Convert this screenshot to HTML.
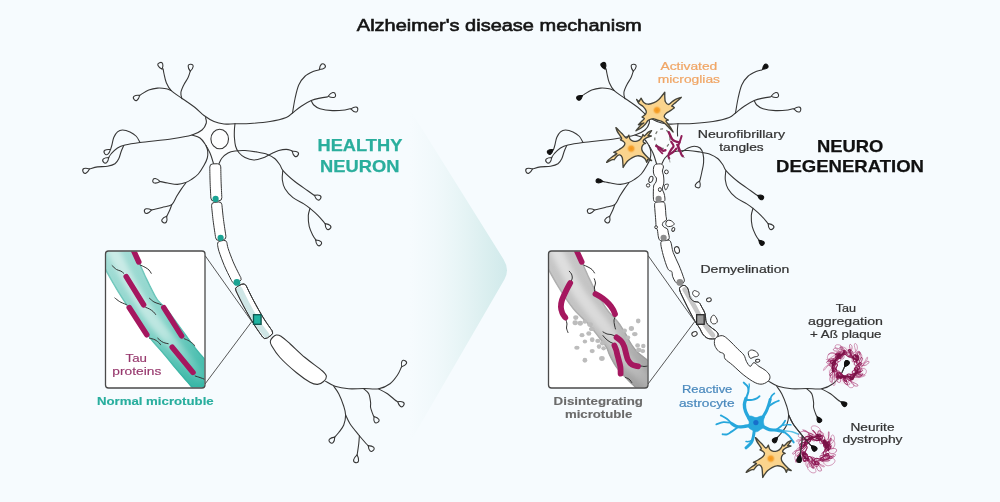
<!DOCTYPE html>
<html lang="en"><head><meta charset="utf-8"><title>Alzheimer's disease mechanism</title>
<style>html,body{margin:0;padding:0;background:#f6fbfe;}body{width:1000px;height:502px;overflow:hidden;}svg{display:block;font-family:"Liberation Sans",sans-serif;}</style>
</head><body><div style="will-change:transform;width:1000px;height:502px;">
<svg width="1000" height="502" viewBox="0 0 1000 502">
<defs>
<linearGradient id="arrowg" gradientUnits="userSpaceOnUse" x1="410" y1="0" x2="509" y2="0"><stop offset="0" stop-color="#dcefef" stop-opacity="0"/><stop offset="0.25" stop-color="#dcefef" stop-opacity="0.2"/><stop offset="0.5" stop-color="#d9eeee" stop-opacity="0.5"/><stop offset="0.75" stop-color="#d5ecec" stop-opacity="0.8"/><stop offset="1" stop-color="#cfe9ea" stop-opacity="1"/></linearGradient>
<linearGradient id="tealband" gradientUnits="userSpaceOnUse" x1="120" y1="255" x2="200" y2="385"><stop offset="0" stop-color="#a2dcd5"/><stop offset="0.5" stop-color="#8ad4ca"/><stop offset="0.78" stop-color="#58c3b5"/><stop offset="1" stop-color="#38b7a6"/></linearGradient>
<linearGradient id="tealhi" gradientUnits="userSpaceOnUse" x1="120" y1="255" x2="200" y2="385"><stop offset="0" stop-color="#d2eeea" stop-opacity="0.85"/><stop offset="0.6" stop-color="#c8ebe6" stop-opacity="0.8"/><stop offset="0.85" stop-color="#9bdcd3" stop-opacity="0.4"/><stop offset="1" stop-color="#8fd8cd" stop-opacity="0.15"/></linearGradient>
<linearGradient id="grayband" gradientUnits="userSpaceOnUse" x1="563" y1="255" x2="643" y2="385"><stop offset="0" stop-color="#c6c6c6"/><stop offset="0.5" stop-color="#c2c2c2"/><stop offset="0.8" stop-color="#adadad"/><stop offset="1" stop-color="#9e9e9e"/></linearGradient>
<linearGradient id="grayhi" gradientUnits="userSpaceOnUse" x1="563" y1="255" x2="643" y2="385"><stop offset="0" stop-color="#e2e2e2" stop-opacity="0.9"/><stop offset="0.6" stop-color="#dedede" stop-opacity="0.8"/><stop offset="1" stop-color="#cfcfcf" stop-opacity="0.3"/></linearGradient>
<radialGradient id="nuc"><stop offset="0" stop-color="#f3931a"/><stop offset="0.5" stop-color="#f6a430"/><stop offset="1" stop-color="#fad08a" stop-opacity="0"/></radialGradient>
<filter id="soft" x="-20%" y="-20%" width="140%" height="140%"><feGaussianBlur stdDeviation="2.6"/></filter>
<filter id="soft1" x="-20%" y="-20%" width="140%" height="140%"><feGaussianBlur stdDeviation="0.7"/></filter>
<clipPath id="boxL"><rect x="106" y="251.6" width="98.5" height="136" rx="2.5"/></clipPath>
<clipPath id="boxR"><rect x="549" y="251.6" width="98.5" height="136" rx="2.5"/></clipPath>
</defs>
<rect width="1000" height="502" fill="#f6fbfe"/>
<path d="M379,60 L503.6,259.4 Q510,269.6 504.4,279.4 L387,482 Z" fill="url(#arrowg)"/>
<text x="356.8" y="31.3" font-size="17" fill="#141414" font-weight="normal" textLength="285" lengthAdjust="spacingAndGlyphs" stroke="#141414" stroke-width="0.6">Alzheimer's disease mechanism</text>
<path d="M205.5,117.5C206.27,117.35 212.15,120.85 214,121.5C215.85,122.15 221.9,123.79 224,124C226.1,124.21 233.96,123 235,123.6C236.04,124.2 234.46,128.61 234.4,130C234.34,131.39 234.28,135.88 234.4,137.5C234.52,139.12 235.29,144.94 235.6,146.25C235.91,147.56 237.56,150.12 237.5,150.6C237.44,151.07 235.95,150.76 235,151C234.05,151.24 229.3,152.3 228,153C226.7,153.7 222.9,156.95 222,158C221.1,159.05 219.85,162.95 219,163.5C218.15,164.05 214.4,164.55 213.5,163.5C212.6,162.45 210.85,154.95 210,153C209.15,151.05 206,145.5 205,144C204,142.5 201.3,138.9 200,138C198.7,137.1 191.8,135.8 192,135C192.2,134.2 200.57,131.2 202,130C203.43,128.8 205.95,124.25 206.3,123C206.65,121.75 204.73,117.65 205.5,117.5Z" fill="#fbfdfe"/>
<path d="M163.1,68.75C163.25,69.58 163.47,71.46 164,73.75C164.53,76.04 165.04,79.69 166.25,82.5C167.46,85.31 168.54,87.89 171.25,90.6C173.96,93.31 178.54,95.93 182.5,98.75C186.46,101.57 191.42,104.71 195,107.5C198.58,110.29 200.83,113.17 204,115.5C207.17,117.83 210.67,120.08 214,121.5C217.33,122.92 220.5,123.63 224,124C227.5,124.37 230.67,123.78 235,123.7C239.33,123.62 244.17,123.87 250,123.5C255.83,123.13 263.96,122.5 270,121.5C276.04,120.5 282.5,118.92 286.25,117.5C290,116.08 290,114.88 292.5,113C295,111.12 298.12,108.32 301.25,106.25C304.38,104.18 308.12,101.96 311.25,100.6C314.38,99.24 317.29,98.72 320,98.1C322.71,97.48 326.25,97.1 327.5,96.9" fill="none" stroke="#363636" stroke-width="1.08" stroke-linecap="round"/>
<path d="M162.16,69.15C163.84,64.33 162.67,61.41 159.56,62.65C156.45,63.89 157.62,66.82 162.16,69.15Z" fill="#f6fbfe" stroke="#363636" stroke-width="1.08"/>
<path d="M328.17,96.21C332.94,98.53 336.23,97.77 335.47,94.51C334.71,91.25 331.43,92.01 328.17,96.21Z" fill="#f6fbfe" stroke="#363636" stroke-width="1.08"/>
<path d="M205.5,117.5C205.63,118.42 206.88,120.92 206.3,123C205.72,125.08 204.38,128 202,130C199.62,132 196.92,133.54 192,135C187.08,136.46 181.17,137.5 172.5,138.75C163.83,140 147.92,141.46 140,142.5C132.08,143.54 128.75,144.08 125,145C121.25,145.92 119.79,146.54 117.5,148C115.21,149.46 112.71,152.17 111.25,153.75C109.79,155.33 109.16,156.88 108.75,157.5C108.34,158.12 108.76,157.49 108.76,157.49" fill="none" stroke="#363636" stroke-width="1.08" stroke-linecap="round"/>
<path d="M108.76,157.49C103.66,157.5 101.29,159.57 103.49,162.09C105.69,164.61 108.07,162.54 108.76,157.49Z" fill="#f6fbfe" stroke="#363636" stroke-width="1.08" stroke-linejoin="round"/>
<path d="M192,135C193.33,135.5 197.83,136.5 200,138C202.17,139.5 203.33,141.5 205,144C206.67,146.5 208.58,149.75 210,153C211.42,156.25 212.92,161.75 213.5,163.5" fill="none" stroke="#363636" stroke-width="1.08" stroke-linecap="round"/>
<path d="M235,123.5C234.9,124.58 234.5,127.67 234.4,130C234.3,132.33 234.2,134.79 234.4,137.5C234.6,140.21 234.88,143.75 235.6,146.25C236.32,148.75 237.18,150.62 238.75,152.5C240.32,154.38 242.5,156.25 245,157.5C247.5,158.75 250.83,159.9 253.75,160C256.67,160.1 259.58,159.14 262.5,158.1C265.42,157.06 268.54,155 271.25,153.75C273.96,152.5 276.25,151.32 278.75,150.6C281.25,149.88 284.17,149.4 286.25,149.4C288.33,149.4 290.26,150.29 291.25,150.6C292.24,150.91 292.04,151.17 292.2,151.29" fill="none" stroke="#363636" stroke-width="1.08" stroke-linecap="round"/>
<path d="M292.2,151.29C293.35,156.26 295.9,158.1 297.87,155.39C299.83,152.68 297.28,150.83 292.2,151.29Z" fill="#f6fbfe" stroke="#363636" stroke-width="1.08" stroke-linejoin="round"/>
<path d="M219,163.5C219.5,162.58 220.5,159.75 222,158C223.5,156.25 225.83,154.17 228,153C230.17,151.83 232.17,151.42 235,151C237.83,150.58 241.46,150.35 245,150.5C248.54,150.65 252.5,151.25 256.25,151.9C260,152.55 264.38,153.26 267.5,154.4C270.62,155.54 272.92,156.98 275,158.75C277.08,160.52 278.63,162.99 280,165C281.37,167.01 280.73,168.05 283.2,170.8C285.67,173.55 290.77,178.22 294.8,181.5C298.83,184.78 304.25,188.25 307.4,190.5C310.55,192.75 312.54,194.19 313.7,195C314.86,195.81 314.26,195.3 314.38,195.35" fill="none" stroke="#363636" stroke-width="1.08" stroke-linecap="round"/>
<path d="M314.38,195.35C316.24,200.1 319.03,201.56 320.58,198.6C322.13,195.63 319.34,194.17 314.38,195.35Z" fill="#f6fbfe" stroke="#363636" stroke-width="1.08" stroke-linejoin="round"/>
<path d="M282.8,170.8C282.72,172.28 281.93,176.72 282.3,179.7C282.67,182.68 283.22,185.7 285,188.7C286.78,191.7 289.87,195.17 293,197.7C296.13,200.23 300.97,202.12 303.8,203.9C306.63,205.68 307.62,206.45 310,208.4C312.38,210.35 315.7,213.2 318.1,215.6C320.5,218 323.22,221.46 324.4,222.8C325.58,224.14 325.03,223.48 325.15,223.61" fill="none" stroke="#363636" stroke-width="1.08" stroke-linecap="round"/>
<path d="M325.15,223.61C325.3,228.71 327.44,231.03 329.9,228.76C332.36,226.49 330.22,224.17 325.15,223.61Z" fill="#f6fbfe" stroke="#363636" stroke-width="1.08" stroke-linejoin="round"/>
<path d="M310,208.4C309.72,209.6 308.43,212.6 308.3,215.6C308.17,218.6 308.45,223.12 309.2,226.4C309.95,229.68 311.6,232.92 312.8,235.3C314,237.68 315.92,239.92 316.4,240.7C316.88,241.48 315.79,240.11 315.66,240" fill="none" stroke="#363636" stroke-width="1.08" stroke-linecap="round"/>
<path d="M315.66,240C316.13,245.08 318.41,247.25 320.72,244.84C323.04,242.42 320.76,240.24 315.66,240Z" fill="#f6fbfe" stroke="#363636" stroke-width="1.08" stroke-linejoin="round"/>
<path d="M206,145.5C206.28,146.42 207.48,148.92 207.7,151C207.92,153.08 207.93,155.57 207.3,158C206.67,160.43 205.4,162.93 203.9,165.6C202.4,168.27 200.38,171.68 198.3,174C196.22,176.32 193.48,178.07 191.4,179.5C189.32,180.93 188.13,181.78 185.8,182.6C183.47,183.42 180.42,184.33 177.4,184.4C174.38,184.47 170.48,183.47 167.7,183C164.92,182.53 161.95,181.85 160.7,181.6C159.45,181.35 160.29,181.54 160.21,181.53" fill="none" stroke="#363636" stroke-width="1.08" stroke-linecap="round"/>
<path d="M160.21,181.53C156.56,177.88 153.22,177.4 152.78,180.47C152.34,183.54 155.68,184.01 160.21,181.53Z" fill="#f6fbfe" stroke="#363636" stroke-width="1.08" stroke-linejoin="round"/>
<path d="M185.8,183C185.1,183.93 183.12,186.38 181.6,188.6C180.08,190.82 178.33,193.63 176.7,196.3C175.07,198.97 174.23,202.75 171.8,204.6C169.37,206.45 165.12,206.58 162.1,207.4C159.08,208.22 155.43,209.08 153.7,209.5C151.97,209.92 152.07,209.86 151.74,209.93" fill="none" stroke="#363636" stroke-width="1.08" stroke-linecap="round"/>
<path d="M151.74,209.93C147.04,207.8 143.75,208.54 144.42,211.56C145.1,214.59 148.39,213.86 151.74,209.93Z" fill="#f6fbfe" stroke="#363636" stroke-width="1.08" stroke-linejoin="round"/>
<path d="M171.8,204.6C171.45,205.53 170.5,208.33 169.7,210.2C168.9,212.07 167.5,214.77 167,215.8C166.5,216.83 166.74,216.26 166.68,216.35" fill="none" stroke="#363636" stroke-width="1.08" stroke-linecap="round"/>
<path d="M166.68,216.35C161.87,218.04 160.3,220.77 163.21,222.43C166.12,224.09 167.68,221.36 166.68,216.35Z" fill="#f6fbfe" stroke="#363636" stroke-width="1.08" stroke-linejoin="round"/>
<path d="M181.9,98.75C181.73,97.71 180.59,94.79 180.9,92.5C181.21,90.21 182.55,87.5 183.75,85C184.95,82.5 187.02,79.79 188.1,77.5C189.18,75.21 189.89,72.3 190.25,71.25C190.61,70.2 190.25,71.2 190.26,71.19" fill="none" stroke="#363636" stroke-width="1.08" stroke-linecap="round"/>
<path d="M190.26,71.19C193.91,67.62 194.17,64.48 190.83,64.21C187.49,63.93 187.23,67.07 190.26,71.19Z" fill="#f6fbfe" stroke="#363636" stroke-width="1.08" stroke-linejoin="round"/>
<path d="M171.25,90.6C170.42,90.29 168.54,89.17 166.25,88.75C163.96,88.33 160.42,87.89 157.5,88.1C154.58,88.31 151.46,88.95 148.75,90C146.04,91.05 142.75,93.5 141.25,94.4C139.75,95.3 139.99,95.24 139.74,95.41" fill="none" stroke="#363636" stroke-width="1.08" stroke-linecap="round"/>
<path d="M139.74,95.41C134.68,94.77 132.06,96.53 133.92,99.31C135.79,102.09 138.4,100.34 139.74,95.41Z" fill="#f6fbfe" stroke="#363636" stroke-width="1.08" stroke-linejoin="round"/>
<path d="M140,142.5C139.38,141.46 137.92,138.02 136.25,136.25C134.58,134.48 132.29,132.94 130,131.9C127.71,130.86 124.58,130 122.5,130C120.42,130 118.96,130.65 117.5,131.9C116.04,133.15 114.68,135.32 113.75,137.5C112.82,139.68 112.43,143.02 111.9,145C111.38,146.98 110.85,148.64 110.6,149.4C110.35,150.16 110.42,149.52 110.38,149.55" fill="none" stroke="#363636" stroke-width="1.08" stroke-linecap="round"/>
<path d="M110.38,149.55C105.32,148.93 102.71,150.69 104.58,153.47C106.45,156.24 109.06,154.48 110.38,149.55Z" fill="#f6fbfe" stroke="#363636" stroke-width="1.08" stroke-linejoin="round"/>
<path d="M123.75,145.6C123.33,146.54 122.08,149.06 121.25,151.25C120.42,153.44 119.79,156.67 118.75,158.75C117.71,160.83 116.88,162.5 115,163.75C113.12,165 110.42,165.72 107.5,166.25C104.58,166.78 100.42,166.48 97.5,166.9C94.58,167.32 91.34,168.4 90,168.75C88.66,169.1 89.56,168.94 89.47,168.97" fill="none" stroke="#363636" stroke-width="1.08" stroke-linecap="round"/>
<path d="M89.47,168.97C84.62,167.38 81.72,168.6 83.02,171.69C84.32,174.77 87.22,173.55 89.47,168.97Z" fill="#f6fbfe" stroke="#363636" stroke-width="1.08" stroke-linejoin="round"/>
<path d="M292.5,113C292.92,110.62 293.96,103.42 295,98.75C296.04,94.08 297.08,88.75 298.75,85C300.42,81.25 302.5,78.54 305,76.25C307.5,73.96 311.46,72.29 313.75,71.25C316.04,70.21 317.81,70.3 318.75,70C319.69,69.7 319.28,69.52 319.39,69.42" fill="none" stroke="#363636" stroke-width="1.08" stroke-linecap="round"/>
<path d="M319.39,69.42C324.49,69.32 326.82,67.2 324.57,64.72C322.33,62.24 319.99,64.35 319.39,69.42Z" fill="#f6fbfe" stroke="#363636" stroke-width="1.08" stroke-linejoin="round"/>
<path d="M311.25,100.6C311.67,101.33 312.29,103.64 313.75,105C315.21,106.36 316.88,107.82 320,108.75C323.12,109.68 328.33,110.39 332.5,110.6C336.67,110.81 342.08,110.31 345,110C347.92,109.69 349.03,108.94 350,108.75C350.97,108.56 350.7,108.84 350.84,108.86" fill="none" stroke="#363636" stroke-width="1.08" stroke-linecap="round"/>
<path d="M350.84,108.86C354.22,112.67 357.35,113.08 357.78,109.76C358.21,106.44 355.08,106.03 350.84,108.86Z" fill="#f6fbfe" stroke="#363636" stroke-width="1.08" stroke-linejoin="round"/>
<path d="M325.6,381.25C327.17,382.08 331.14,385 335,386.25C338.86,387.5 343.96,388.38 348.75,388.75C353.54,389.12 358.75,388.5 363.75,388.5C368.75,388.5 374.38,389.54 378.75,388.75C383.12,387.96 386.88,386.04 390,383.75C393.12,381.46 395.62,377.71 397.5,375C399.38,372.29 400.55,368.87 401.25,367.5C401.95,366.13 401.6,366.88 401.68,366.75" fill="none" stroke="#363636" stroke-width="1.08" stroke-linecap="round"/>
<path d="M401.68,366.75C406.49,365.06 408.04,362.32 405.13,360.67C402.22,359.01 400.67,361.75 401.68,366.75Z" fill="#f6fbfe" stroke="#363636" stroke-width="1.08" stroke-linejoin="round"/>
<path d="M378.75,389C380.21,389.79 384.79,391.92 387.5,393.75C390.21,395.58 393.3,398.67 395,400C396.7,401.33 397.26,401.45 397.71,401.74" fill="none" stroke="#363636" stroke-width="1.08" stroke-linecap="round"/>
<path d="M397.71,401.74C399.15,406.63 401.8,408.33 403.61,405.51C405.41,402.69 402.76,400.99 397.71,401.74Z" fill="#f6fbfe" stroke="#363636" stroke-width="1.08" stroke-linejoin="round"/>
<path d="M363.75,388.75C364.58,389.58 367.61,391.46 368.75,393.75C369.89,396.04 370.29,400.21 370.6,402.5C370.91,404.79 370.18,405.42 370.6,407.5C371.02,409.58 372.53,413.51 373.1,415C373.67,416.49 373.86,416.21 374.01,416.45" fill="none" stroke="#363636" stroke-width="1.08" stroke-linecap="round"/>
<path d="M374.01,416.45C373.23,421.49 374.91,424.15 377.74,422.37C380.58,420.58 378.9,417.92 374.01,416.45Z" fill="#f6fbfe" stroke="#363636" stroke-width="1.08" stroke-linejoin="round"/>
<path d="M333.75,386.25C334.58,387.5 337.08,390.42 338.75,393.75C340.42,397.08 342.61,402.71 343.75,406.25C344.89,409.79 345.6,411.88 345.6,415C345.6,418.12 344.89,422.08 343.75,425C342.61,427.92 340.31,430.42 338.75,432.5C337.19,434.58 335.07,436.73 334.4,437.5C333.73,438.27 334.67,437.2 334.73,437.14" fill="none" stroke="#363636" stroke-width="1.08" stroke-linecap="round"/>
<path d="M334.73,437.14C329.66,437.74 327.54,440.07 330.02,442.32C332.49,444.57 334.61,442.24 334.73,437.14Z" fill="#f6fbfe" stroke="#363636" stroke-width="1.08" stroke-linejoin="round"/>
<path d="M345.6,415C346.33,416.46 347.81,420.42 350,423.75C352.19,427.08 356.04,431.67 358.75,435C361.46,438.33 364.67,441.98 366.25,443.75C367.83,445.52 367.88,445.3 368.21,445.61" fill="none" stroke="#363636" stroke-width="1.08" stroke-linecap="round"/>
<path d="M368.21,445.61C368.69,450.69 370.97,452.86 373.28,450.43C375.59,448 373.3,445.83 368.21,445.61Z" fill="#f6fbfe" stroke="#363636" stroke-width="1.08" stroke-linejoin="round"/>
<path d="M359.4,435.6C359.29,436.96 359.07,440.93 358.75,443.75C358.43,446.57 357.78,450.66 357.5,452.5C357.22,454.34 357.16,454.4 357.09,454.78" fill="none" stroke="#363636" stroke-width="1.08" stroke-linecap="round"/>
<path d="M357.09,454.78C353.01,458.51 352.37,462.05 355.66,462.65C358.96,463.24 359.6,459.7 357.09,454.78Z" fill="#f6fbfe" stroke="#363636" stroke-width="1.08" stroke-linejoin="round"/>
<ellipse cx="219.7" cy="139" rx="8.8" ry="9.8" fill="#fdfefe" stroke="#363636" stroke-width="1.08"/>
<path d="M209.77,167.12C209.83,169.63 209.92,177.03 210.1,182.19C210.28,187.35 210.73,195.42 210.85,198.06Q211.01,201.26 214.2,201.11L218.8,200.89Q221.99,200.74 221.84,197.54L221.84,197.54C221.72,194.92 221.28,186.92 221.1,181.81C220.92,176.7 220.82,169.37 220.77,166.88Q220.7,163.68 217.5,163.75L212.9,163.85Q209.7,163.92 209.77,167.12Z" fill="#fff" stroke="#363636" stroke-width="1.0" stroke-linejoin="round" />
<path d="M211.55,205.73C211.81,208.22 212.46,215.31 213.14,220.66C213.82,226 215.21,234.92 215.62,237.78Q216.05,240.75 219.02,240.32L223.38,239.68Q226.35,239.25 225.92,236.28L225.92,236.28C225.51,233.46 224.13,224.62 223.46,219.34C222.79,214.07 222.15,207.08 221.89,204.63Q221.57,201.65 218.59,201.97L214.21,202.43Q211.23,202.75 211.55,205.73Z" fill="#fff" stroke="#363636" stroke-width="1.0" stroke-linejoin="round" />
<path d="M217.55,244.75C217.79,245.86 217.89,247.95 219.02,251.43C220.15,254.91 222.48,261.23 224.33,265.62C226.17,270 228.77,275.02 230.1,277.72C231.42,280.43 231.9,281.17 232.26,281.86Q233.65,284.52 236.3,283.13L239.5,281.47Q242.15,280.08 240.77,277.42L240.77,277.42C240.42,276.76 239.97,276.07 238.7,273.48C237.44,270.89 234.93,266.03 233.17,261.88C231.42,257.73 229.22,251.77 228.18,248.57C227.14,245.38 227.14,243.69 226.93,242.71Q226.29,239.78 223.36,240.42L219.84,241.18Q216.91,241.82 217.55,244.75Z" fill="#fff" stroke="#363636" stroke-width="1.0" stroke-linejoin="round" />
<path d="M236.01,290.88C237.24,293.35 240.41,300.16 243.37,305.68C246.33,311.2 250.55,318.78 253.75,324C256.95,329.22 261.1,334.83 262.57,336.99Q264.49,339.8 267.3,337.89L271.1,335.31Q273.91,333.4 272,330.58L272,330.58C270.58,328.49 266.54,323.04 263.45,318C260.35,312.96 256.3,305.69 253.43,300.32C250.56,294.96 247.42,288.23 246.22,285.81Q244.7,282.76 241.66,284.28L237.54,286.32Q234.5,287.84 236.01,290.88Z" fill="#fff" stroke="#363636" stroke-width="1.0" stroke-linejoin="round" />
<path d="M239.4,289.4C240.73,292.08 244.43,299.97 247.4,305.5C250.37,311.03 254.03,317.68 257.2,322.6C260.37,327.52 264.87,332.93 266.4,335" fill="none" stroke="#cfe6e6" stroke-width="6" stroke-linecap="round"/>
<path d="M236.01,290.88C237.24,293.35 240.41,300.16 243.37,305.68C246.33,311.2 250.55,318.78 253.75,324C256.95,329.22 261.1,334.83 262.57,336.99Q264.49,339.8 267.3,337.89L271.1,335.31Q273.91,333.4 272,330.58L272,330.58C270.58,328.49 266.54,323.04 263.45,318C260.35,312.96 256.3,305.69 253.43,300.32C250.56,294.96 247.42,288.23 246.22,285.81Q244.7,282.76 241.66,284.28L237.54,286.32Q234.5,287.84 236.01,290.88Z" fill="none" stroke="#363636" stroke-width="1.0" stroke-linejoin="round" />
<circle cx="215.6" cy="198.9" r="3.1" fill="#1aa393"/>
<circle cx="220.6" cy="237.8" r="3.1" fill="#1aa393"/>
<circle cx="236.9" cy="282.4" r="3.4" fill="#1aa393"/>
<path d="M272.5,337.5C271.52,338.5 270.57,339.67 270.4,341C270.23,342.33 269.9,342.75 271.5,345.5C273.1,348.25 275.88,353 280,357.5C284.12,362 291.25,368.38 296.25,372.5C301.25,376.62 306.46,380.22 310,382.2C313.54,384.18 315.23,384.52 317.5,384.4C319.77,384.28 322.12,382.83 323.6,381.5C325.08,380.17 326.58,378.15 326.4,376.4C326.22,374.65 326.07,374.15 322.5,371C318.93,367.85 310.42,362.04 305,357.5C299.58,352.96 294,347.28 290,343.75C286,340.22 283.29,337.76 281,336.3C278.71,334.84 277.67,334.8 276.25,335C274.83,335.2 273.48,336.5 272.5,337.5Z" fill="#fff" stroke="#363636" stroke-width="1.08"/>
<path d="M205,255.5 L251.8,321.5 L205,384" fill="none" stroke="#444" stroke-width="0.9" stroke-linejoin="round"/>
<rect x="253.5" y="314.7" width="7.6" height="9.6" fill="#20b4a2" stroke="#0e554e" stroke-width="1.3"/>
<rect x="105.5" y="251" width="99.5" height="137" rx="3" fill="#fff"/>
<g clip-path="url(#boxL)">
<clipPath id="bctealband"><path d="M92,247C93.33,249.33 97.75,257 100,261C102.25,265 103.12,266.75 105.5,271C107.88,275.25 111.55,281.83 114.3,286.5C117.05,291.17 118.33,293.42 122,299C125.67,304.58 131.72,313.42 136.3,320C140.88,326.58 145.28,333.08 149.5,338.5C153.72,343.92 157.02,347.08 161.6,352.5C166.18,357.92 172.05,365.17 177,371C181.95,376.83 187.8,383.5 191.3,387.5C194.8,391.5 195.72,392.42 198,395C200.28,397.58 203.83,401.67 205,403L220,377C218.67,375.33 214.58,370.17 212,367C209.42,363.83 207.22,361.25 204.5,358C201.78,354.75 199.18,352 195.7,347.5C192.22,343 188.18,337.25 183.6,331C179.02,324.75 172.22,315 168.2,310C164.18,305 161.7,303.63 159.5,301C157.3,298.37 157.03,297.9 155,294.2C152.97,290.5 149.5,283.38 147.3,278.8C145.1,274.22 143.93,271.33 141.8,266.7C139.67,262.07 136.8,255.78 134.5,251C132.2,246.22 130.08,242.33 128,238C125.92,233.67 123,227.17 122,225Z"/></clipPath>
<g clip-path="url(#bctealband)">
<path d="M92,247C93.33,249.33 97.75,257 100,261C102.25,265 103.12,266.75 105.5,271C107.88,275.25 111.55,281.83 114.3,286.5C117.05,291.17 118.33,293.42 122,299C125.67,304.58 131.72,313.42 136.3,320C140.88,326.58 145.28,333.08 149.5,338.5C153.72,343.92 157.02,347.08 161.6,352.5C166.18,357.92 172.05,365.17 177,371C181.95,376.83 187.8,383.5 191.3,387.5C194.8,391.5 195.72,392.42 198,395C200.28,397.58 203.83,401.67 205,403L220,377C218.67,375.33 214.58,370.17 212,367C209.42,363.83 207.22,361.25 204.5,358C201.78,354.75 199.18,352 195.7,347.5C192.22,343 188.18,337.25 183.6,331C179.02,324.75 172.22,315 168.2,310C164.18,305 161.7,303.63 159.5,301C157.3,298.37 157.03,297.9 155,294.2C152.97,290.5 149.5,283.38 147.3,278.8C145.1,274.22 143.93,271.33 141.8,266.7C139.67,262.07 136.8,255.78 134.5,251C132.2,246.22 130.08,242.33 128,238C125.92,233.67 123,227.17 122,225Z" fill="url(#tealband)"/>
<path d="M105.5,236C107.67,240.17 113.89,252.18 118.5,261C123.11,269.82 127.4,279.11 133.15,288.9C138.9,298.69 145.39,309.4 153,319.75C160.61,330.1 171.01,341.54 178.8,351C186.59,360.46 196.26,372.25 199.75,376.5" fill="none" stroke="url(#tealhi)" stroke-width="12" stroke-linecap="round" filter="url(#soft)"/>
<path d="M92,247C93.33,249.33 97.75,257 100,261C102.25,265 103.12,266.75 105.5,271C107.88,275.25 111.55,281.83 114.3,286.5C117.05,291.17 118.33,293.42 122,299C125.67,304.58 131.72,313.42 136.3,320C140.88,326.58 145.28,333.08 149.5,338.5C153.72,343.92 157.02,347.08 161.6,352.5C166.18,357.92 172.05,365.17 177,371C181.95,376.83 187.8,383.5 191.3,387.5C194.8,391.5 195.72,392.42 198,395C200.28,397.58 203.83,401.67 205,403" fill="none" stroke="#2aa898" stroke-width="3" opacity="0.35" filter="url(#soft1)"/>
<path d="M122,225C123,227.17 125.92,233.67 128,238C130.08,242.33 132.2,246.22 134.5,251C136.8,255.78 139.67,262.07 141.8,266.7C143.93,271.33 145.1,274.22 147.3,278.8C149.5,283.38 152.97,290.5 155,294.2C157.03,297.9 157.3,298.37 159.5,301C161.7,303.63 164.18,305 168.2,310C172.22,315 179.02,324.75 183.6,331C188.18,337.25 192.22,343 195.7,347.5C199.18,352 201.78,354.75 204.5,358C207.22,361.25 209.42,363.83 212,367C214.58,370.17 218.67,375.33 220,377" fill="none" stroke="#2aa898" stroke-width="3" opacity="0.35" filter="url(#soft1)"/>
</g>
<path d="M140.2,265C141.02,265.38 143.63,266.47 145.1,267.3C146.57,268.13 147.98,269 149,270C150.02,271 150.83,272.75 151.2,273.3" stroke="#333" stroke-width="1" fill="none" stroke-linecap="round"/>
<path d="M112.1,265.6C112.83,266.25 115.03,268.58 116.5,269.5C117.97,270.42 119.7,270.47 120.9,271.1C122.1,271.73 123.23,272.93 123.7,273.3" stroke="#333" stroke-width="1" fill="none" stroke-linecap="round"/>
<path d="M145.7,307.4C146.33,307.67 148.22,308.27 149.5,309C150.78,309.73 152.38,310.83 153.4,311.75C154.42,312.67 155.23,314.04 155.6,314.5" stroke="#333" stroke-width="1" fill="none" stroke-linecap="round"/>
<path d="M114.9,298C115.63,298.57 118.03,300.57 119.3,301.4C120.57,302.23 121.32,302.47 122.5,303C123.68,303.53 125.75,304.33 126.4,304.6" stroke="#333" stroke-width="1" fill="none" stroke-linecap="round"/>
<path d="M149.5,338.2C150.42,338.47 153.35,338.98 155,339.8C156.65,340.62 158.48,342.28 159.4,343.1C160.32,343.93 160.32,344.48 160.5,344.75" stroke="#333" stroke-width="1" fill="none" stroke-linecap="round"/>
<path d="M149.5,298.3C150.23,298.9 152.48,301.03 153.9,301.9C155.32,302.77 156.8,303.05 158,303.5C159.2,303.95 160.58,304.42 161.1,304.6" stroke="#333" stroke-width="1" fill="none" stroke-linecap="round"/>
<path d="M184.2,338.7C185.02,339.07 187.55,339.98 189.1,340.9C190.65,341.82 192.58,343.37 193.5,344.2C194.42,345.03 194.42,345.62 194.6,345.9" stroke="#333" stroke-width="1" fill="none" stroke-linecap="round"/>
<path d="M157.75,338.2C158.39,338.75 160.39,340.7 161.6,341.5C162.81,342.3 163.9,342.63 165,343C166.1,343.37 167.67,343.58 168.2,343.7" stroke="#333" stroke-width="1" fill="none" stroke-linecap="round"/>
<path d="M195.2,376C196.02,376.27 198.55,377.06 200.1,377.6C201.65,378.14 203.52,378.77 204.5,379.25C205.48,379.73 205.75,380.29 206,380.5" stroke="#333" stroke-width="1" fill="none" stroke-linecap="round"/>
<path d="M132.6,248.5 L138.8,262" stroke="#a5175f" stroke-width="5.5" stroke-linecap="round" fill="none"/>
<path d="M126.2,276.6 L143.6,304.8" stroke="#a5175f" stroke-width="5.5" stroke-linecap="round" fill="none"/>
<path d="M129.2,307.6 L146.8,334.8" stroke="#a5175f" stroke-width="5.5" stroke-linecap="round" fill="none"/>
<path d="M163.8,307.6 L181.6,335.9" stroke="#a5175f" stroke-width="5.5" stroke-linecap="round" fill="none"/>
<path d="M172.2,347.2 L193,372.4" stroke="#a5175f" stroke-width="5.5" stroke-linecap="round" fill="none"/>
</g>
<rect x="105.5" y="251" width="99.5" height="137" rx="3" fill="none" stroke="#4a4a4a" stroke-width="1.3"/>
<text x="125.6" y="362" font-size="11.2" fill="#97386d" font-weight="normal" textLength="21.4" lengthAdjust="spacingAndGlyphs"  stroke="#97386d" stroke-width="0.15">Tau</text>
<text x="112.3" y="374.6" font-size="11.2" fill="#97386d" font-weight="normal" textLength="49" lengthAdjust="spacingAndGlyphs"  stroke="#97386d" stroke-width="0.15">proteins</text>
<text x="96.9" y="404.9" font-size="11.4" fill="#29ae9e" font-weight="bold" textLength="116.8" lengthAdjust="spacingAndGlyphs"  stroke="#29ae9e" stroke-width="0.15">Normal microtuble</text>
<text x="317.5" y="151.3" font-size="16.7" fill="#2aae9d" font-weight="bold" textLength="84.8" lengthAdjust="spacingAndGlyphs"  stroke="#2aae9d" stroke-width="0.25">HEALTHY</text>
<text x="320" y="171.6" font-size="16.7" fill="#2aae9d" font-weight="bold" textLength="79.4" lengthAdjust="spacingAndGlyphs"  stroke="#2aae9d" stroke-width="0.25">NEURON</text>
<path d="M648.5,117.5C649.27,117.35 655.15,120.85 657,121.5C658.85,122.15 664.9,123.79 667,124C669.1,124.21 676.96,123 678,123.6C679.04,124.2 677.46,128.61 677.4,130C677.34,131.39 677.28,135.88 677.4,137.5C677.52,139.12 678.29,144.94 678.6,146.25C678.91,147.56 680.56,150.12 680.5,150.6C680.44,151.07 678.95,150.76 678,151C677.05,151.24 672.3,152.3 671,153C669.7,153.7 665.9,156.95 665,158C664.1,159.05 662.85,162.95 662,163.5C661.15,164.05 657.4,164.55 656.5,163.5C655.6,162.45 653.85,154.95 653,153C652.15,151.05 649,145.5 648,144C647,142.5 644.3,138.9 643,138C641.7,137.1 634.8,135.8 635,135C635.2,134.2 643.57,131.2 645,130C646.43,128.8 648.95,124.25 649.3,123C649.65,121.75 647.73,117.65 648.5,117.5Z" fill="#fbfdfe"/>
<path d="M606.1,68.75C606.25,69.58 606.48,71.46 607,73.75C607.52,76.04 608.04,79.69 609.25,82.5C610.46,85.31 611.54,87.89 614.25,90.6C616.96,93.31 621.54,95.93 625.5,98.75C629.46,101.57 634.42,104.71 638,107.5C641.58,110.29 643.83,113.17 647,115.5C650.17,117.83 653.67,120.08 657,121.5C660.33,122.92 663.5,123.63 667,124C670.5,124.37 673.67,123.78 678,123.7C682.33,123.62 687.17,123.87 693,123.5C698.83,123.13 706.96,122.5 713,121.5C719.04,120.5 725.5,118.92 729.25,117.5C733,116.08 733,114.88 735.5,113C738,111.12 741.12,108.32 744.25,106.25C747.38,104.18 751.12,101.96 754.25,100.6C757.38,99.24 760.29,98.72 763,98.1C765.71,97.48 769.25,97.1 770.5,96.9" fill="none" stroke="#363636" stroke-width="1.08" stroke-linecap="round"/>
<path d="M605.16,69.15C606.84,64.33 605.67,61.41 602.56,62.65C599.45,63.89 600.62,66.82 605.16,69.15Z" fill="#111" stroke="#111" stroke-width="1.08"/>
<path d="M771.17,96.21C775.94,98.53 779.23,97.77 778.47,94.51C777.71,91.25 774.43,92.01 771.17,96.21Z" fill="#f6fbfe" stroke="#363636" stroke-width="1.08"/>
<path d="M648.5,117.5C648.63,118.42 649.88,120.92 649.3,123C648.72,125.08 647.38,128 645,130C642.62,132 639.92,133.54 635,135C630.08,136.46 624.17,137.5 615.5,138.75C606.83,140 590.92,141.46 583,142.5C575.08,143.54 571.75,144.08 568,145C564.25,145.92 562.79,146.54 560.5,148C558.21,149.46 555.71,152.17 554.25,153.75C552.79,155.33 552.16,156.88 551.75,157.5C551.34,158.12 551.76,157.49 551.76,157.49" fill="none" stroke="#363636" stroke-width="1.08" stroke-linecap="round"/>
<path d="M551.76,157.49C546.66,157.5 544.29,159.57 546.49,162.09C548.69,164.61 551.07,162.54 551.76,157.49Z" fill="#f6fbfe" stroke="#363636" stroke-width="1.08" stroke-linejoin="round"/>
<path d="M635,135C636.33,135.5 640.83,136.5 643,138C645.17,139.5 646.33,141.5 648,144C649.67,146.5 651.58,149.75 653,153C654.42,156.25 655.92,161.75 656.5,163.5" fill="none" stroke="#363636" stroke-width="1.08" stroke-linecap="round"/>
<path d="M678,123.5C677.9,124.58 677.47,127.92 677.4,130C677.33,132.08 677.57,135 677.6,136" fill="none" stroke="#363636" stroke-width="1.08" stroke-linecap="round"/>
<path d="M681.75,151.9C682.79,151.25 685.92,148.94 688,148C690.08,147.06 692.25,146.25 694.25,146.25C696.25,146.25 698.54,146.75 700,148C701.46,149.25 702.4,151.33 703,153.75C703.6,156.17 703.81,159.38 703.6,162.5C703.39,165.62 702.35,169.58 701.75,172.5C701.15,175.42 700.37,178.57 700,180C699.63,181.43 699.63,180.92 699.56,181.1" fill="none" stroke="#363636" stroke-width="1.08" stroke-linecap="round"/>
<path d="M699.56,181.1C695.02,183.43 693.85,186.36 696.96,187.6C700.07,188.84 701.24,185.92 699.56,181.1Z" fill="#f6fbfe" stroke="#363636" stroke-width="1.08" stroke-linejoin="round"/>
<path d="M662,163.5C662.5,162.58 663.5,159.75 665,158C666.5,156.25 668.83,154.17 671,153C673.17,151.83 675.17,151.42 678,151C680.83,150.58 684.46,150.35 688,150.5C691.54,150.65 695.5,151.25 699.25,151.9C703,152.55 707.38,153.26 710.5,154.4C713.62,155.54 715.92,156.98 718,158.75C720.08,160.52 721.63,162.99 723,165C724.37,167.01 723.73,168.05 726.2,170.8C728.67,173.55 733.77,178.22 737.8,181.5C741.83,184.78 747.25,188.25 750.4,190.5C753.55,192.75 755.5,194.17 756.7,195C757.9,195.83 757.47,195.4 757.63,195.48" fill="none" stroke="#363636" stroke-width="1.08" stroke-linecap="round"/>
<path d="M757.63,195.48C759.4,199.74 761.97,201.08 763.33,198.47C764.7,195.86 762.13,194.51 757.63,195.48Z" fill="#111" stroke="#111" stroke-width="1.08" stroke-linejoin="round"/>
<path d="M725.8,170.8C725.72,172.28 724.93,176.72 725.3,179.7C725.67,182.68 726.22,185.7 728,188.7C729.78,191.7 732.87,195.17 736,197.7C739.13,200.23 743.97,202.12 746.8,203.9C749.63,205.68 750.62,206.45 753,208.4C755.38,210.35 758.7,213.2 761.1,215.6C763.5,218 766.22,221.46 767.4,222.8C768.58,224.14 768.03,223.48 768.15,223.61" fill="none" stroke="#363636" stroke-width="1.08" stroke-linecap="round"/>
<path d="M768.15,223.61C768.3,228.71 770.44,231.03 772.9,228.76C775.36,226.49 773.22,224.17 768.15,223.61Z" fill="#f6fbfe" stroke="#363636" stroke-width="1.08" stroke-linejoin="round"/>
<path d="M753,208.4C752.72,209.6 751.43,212.6 751.3,215.6C751.17,218.6 751.45,223.12 752.2,226.4C752.95,229.68 754.6,232.92 755.8,235.3C757,237.68 758.89,239.88 759.4,240.7C759.91,241.52 758.96,240.28 758.87,240.19" fill="none" stroke="#363636" stroke-width="1.08" stroke-linecap="round"/>
<path d="M758.87,240.19C759.39,244.77 761.48,246.77 763.52,244.64C765.56,242.51 763.46,240.51 758.87,240.19Z" fill="#111" stroke="#111" stroke-width="1.08" stroke-linejoin="round"/>
<path d="M649,145.5C649.28,146.42 650.48,148.92 650.7,151C650.92,153.08 650.93,155.57 650.3,158C649.67,160.43 648.4,162.93 646.9,165.6C645.4,168.27 643.38,171.68 641.3,174C639.22,176.32 636.48,178.07 634.4,179.5C632.32,180.93 631.13,181.78 628.8,182.6C626.47,183.42 623.42,184.33 620.4,184.4C617.38,184.47 613.48,183.47 610.7,183C607.92,182.53 605,181.85 603.7,181.6C602.4,181.35 603.04,181.51 602.91,181.49" fill="none" stroke="#363636" stroke-width="1.08" stroke-linecap="round"/>
<path d="M602.91,181.49C599.54,178.25 596.46,177.81 596.08,180.51C595.69,183.21 598.77,183.65 602.91,181.49Z" fill="#111" stroke="#111" stroke-width="1.08" stroke-linejoin="round"/>
<path d="M628.8,183C628.1,183.93 626.12,186.38 624.6,188.6C623.08,190.82 621.33,193.63 619.7,196.3C618.07,198.97 617.23,202.75 614.8,204.6C612.37,206.45 608.12,206.58 605.1,207.4C602.08,208.22 598.43,209.08 596.7,209.5C594.97,209.92 595.07,209.86 594.74,209.93" fill="none" stroke="#363636" stroke-width="1.08" stroke-linecap="round"/>
<path d="M594.74,209.93C590.04,207.8 586.75,208.54 587.42,211.56C588.1,214.59 591.39,213.86 594.74,209.93Z" fill="#f6fbfe" stroke="#363636" stroke-width="1.08" stroke-linejoin="round"/>
<path d="M614.8,204.6C614.45,205.53 613.5,208.33 612.7,210.2C611.9,212.07 610.5,214.77 610,215.8C609.5,216.83 609.74,216.26 609.68,216.35" fill="none" stroke="#363636" stroke-width="1.08" stroke-linecap="round"/>
<path d="M609.68,216.35C604.87,218.04 603.3,220.77 606.21,222.43C609.12,224.09 610.68,221.36 609.68,216.35Z" fill="#f6fbfe" stroke="#363636" stroke-width="1.08" stroke-linejoin="round"/>
<path d="M624.9,98.75C624.73,97.71 623.59,94.79 623.9,92.5C624.21,90.21 625.55,87.5 626.75,85C627.95,82.5 630.02,79.79 631.1,77.5C632.18,75.21 632.89,72.3 633.25,71.25C633.61,70.2 633.25,71.2 633.26,71.19" fill="none" stroke="#363636" stroke-width="1.08" stroke-linecap="round"/>
<path d="M633.26,71.19C636.91,67.62 637.17,64.48 633.83,64.21C630.49,63.93 630.23,67.07 633.26,71.19Z" fill="#f6fbfe" stroke="#363636" stroke-width="1.08" stroke-linejoin="round"/>
<path d="M614.25,90.6C613.42,90.29 611.54,89.17 609.25,88.75C606.96,88.33 603.42,87.89 600.5,88.1C597.58,88.31 594.46,88.95 591.75,90C589.04,91.05 585.79,93.47 584.25,94.4C582.71,95.33 582.8,95.37 582.51,95.57" fill="none" stroke="#363636" stroke-width="1.08" stroke-linecap="round"/>
<path d="M582.51,95.57C577.92,95.09 575.52,96.71 577.16,99.15C578.8,101.6 581.2,99.99 582.51,95.57Z" fill="#111" stroke="#111" stroke-width="1.08" stroke-linejoin="round"/>
<path d="M583,142.5C582.38,141.46 580.92,138.02 579.25,136.25C577.58,134.48 575.29,132.94 573,131.9C570.71,130.86 567.58,130 565.5,130C563.42,130 561.96,130.65 560.5,131.9C559.04,133.15 557.68,135.32 556.75,137.5C555.82,139.68 555.42,143.02 554.9,145C554.38,146.98 553.89,148.62 553.6,149.4C553.31,150.18 553.22,149.65 553.15,149.71" fill="none" stroke="#363636" stroke-width="1.08" stroke-linecap="round"/>
<path d="M553.15,149.71C548.56,149.25 546.16,150.87 547.81,153.31C549.46,155.75 551.86,154.13 553.15,149.71Z" fill="#111" stroke="#111" stroke-width="1.08" stroke-linejoin="round"/>
<path d="M566.75,145.6C566.33,146.54 565.08,149.06 564.25,151.25C563.42,153.44 562.79,156.67 561.75,158.75C560.71,160.83 559.88,162.5 558,163.75C556.12,165 553.42,165.72 550.5,166.25C547.58,166.78 543.42,166.48 540.5,166.9C537.58,167.32 534.34,168.4 533,168.75C531.66,169.1 532.56,168.94 532.47,168.97" fill="none" stroke="#363636" stroke-width="1.08" stroke-linecap="round"/>
<path d="M532.47,168.97C527.62,167.38 524.72,168.6 526.02,171.69C527.32,174.77 530.22,173.55 532.47,168.97Z" fill="#f6fbfe" stroke="#363636" stroke-width="1.08" stroke-linejoin="round"/>
<path d="M735.5,113C735.92,110.62 736.96,103.42 738,98.75C739.04,94.08 740.08,88.75 741.75,85C743.42,81.25 745.5,78.54 748,76.25C750.5,73.96 754.46,72.29 756.75,71.25C759.04,70.21 760.78,70.34 761.75,70C762.72,69.66 762.45,69.36 762.6,69.23" fill="none" stroke="#363636" stroke-width="1.08" stroke-linecap="round"/>
<path d="M762.6,69.23C767.2,69.04 769.35,67.09 767.37,64.91C765.39,62.72 763.24,64.67 762.6,69.23Z" fill="#111" stroke="#111" stroke-width="1.08" stroke-linejoin="round"/>
<path d="M754.25,100.6C754.67,101.33 755.29,103.64 756.75,105C758.21,106.36 759.88,107.82 763,108.75C766.12,109.68 771.33,110.39 775.5,110.6C779.67,110.81 785.08,110.31 788,110C790.92,109.69 792.03,108.94 793,108.75C793.97,108.56 793.7,108.84 793.84,108.86" fill="none" stroke="#363636" stroke-width="1.08" stroke-linecap="round"/>
<path d="M793.84,108.86C797.22,112.67 800.35,113.08 800.78,109.76C801.21,106.44 798.08,106.03 793.84,108.86Z" fill="#f6fbfe" stroke="#363636" stroke-width="1.08" stroke-linejoin="round"/>
<path d="M768.6,381.25C770.17,382.08 774.14,385 778,386.25C781.86,387.5 786.96,388.38 791.75,388.75C796.54,389.12 801.75,388.5 806.75,388.5C811.75,388.5 817.38,389.54 821.75,388.75C826.12,387.96 829.88,386.04 833,383.75C836.12,381.46 838.62,377.71 840.5,375C842.38,372.29 843.53,368.92 844.25,367.5C844.97,366.08 844.72,366.67 844.81,366.51" fill="none" stroke="#363636" stroke-width="1.08" stroke-linecap="round"/>
<path d="M844.81,366.51C849.12,364.88 850.56,362.36 847.99,360.91C845.43,359.45 844,361.97 844.81,366.51Z" fill="#111" stroke="#111" stroke-width="1.08" stroke-linejoin="round"/>
<path d="M821.75,389C823.21,389.79 827.79,391.92 830.5,393.75C833.21,395.58 836.26,398.64 838,400C839.74,401.36 840.46,401.57 840.95,401.89" fill="none" stroke="#363636" stroke-width="1.08" stroke-linecap="round"/>
<path d="M840.95,401.89C842.34,406.28 844.78,407.84 846.37,405.36C847.96,402.88 845.52,401.31 840.95,401.89Z" fill="#111" stroke="#111" stroke-width="1.08" stroke-linejoin="round"/>
<path d="M806.75,388.75C807.58,389.58 810.61,391.46 811.75,393.75C812.89,396.04 813.29,400.21 813.6,402.5C813.91,404.79 813.18,405.42 813.6,407.5C814.02,409.58 815.51,413.47 816.1,415C816.69,416.53 816.98,416.4 817.16,416.68" fill="none" stroke="#363636" stroke-width="1.08" stroke-linecap="round"/>
<path d="M817.16,416.68C816.56,421.25 818.1,423.7 820.59,422.13C823.09,420.56 821.54,418.11 817.16,416.68Z" fill="#111" stroke="#111" stroke-width="1.08" stroke-linejoin="round"/>
<path d="M776.75,386.25C777.58,387.5 780.08,390.42 781.75,393.75C783.42,397.08 785.61,402.71 786.75,406.25C787.89,409.79 788.6,411.88 788.6,415C788.6,418.12 787.89,422.08 786.75,425C785.61,427.92 783.31,430.42 781.75,432.5C780.19,434.58 778.1,436.69 777.4,437.5C776.7,438.31 777.51,437.37 777.54,437.35" fill="none" stroke="#363636" stroke-width="1.08" stroke-linecap="round"/>
<path d="M777.54,437.35C772.97,437.99 771.02,440.13 773.2,442.11C775.38,444.1 777.33,441.95 777.54,437.35Z" fill="#111" stroke="#111" stroke-width="1.08" stroke-linejoin="round"/>
<path d="M788.6,415C789.33,416.46 790.81,420.42 793,423.75C795.19,427.08 799.04,431.67 801.75,435C804.46,438.33 807.64,441.95 809.25,443.75C810.86,445.55 811.05,445.46 811.41,445.8" fill="none" stroke="#363636" stroke-width="1.08" stroke-linecap="round"/>
<path d="M811.41,445.8C811.95,450.38 814.05,452.37 816.08,450.24C818.11,448.1 816.01,446.1 811.41,445.8Z" fill="#111" stroke="#111" stroke-width="1.08" stroke-linejoin="round"/>
<path d="M802.4,435.6C802.29,436.96 802.07,440.93 801.75,443.75C801.43,446.57 800.79,450.61 800.5,452.5C800.21,454.39 800.11,454.66 800.03,455.09" fill="none" stroke="#363636" stroke-width="1.08" stroke-linecap="round"/>
<path d="M800.03,455.09C796.41,458.55 795.82,461.81 798.72,462.33C801.62,462.86 802.21,459.6 800.03,455.09Z" fill="#111" stroke="#111" stroke-width="1.08" stroke-linejoin="round"/>
<ellipse cx="662.4" cy="138.6" rx="7.6" ry="9.8" fill="#fafcfd" stroke="#70746b" stroke-width="1.2" stroke-dasharray="3 3.6" stroke-dashoffset="1"/>
<path d="M655.4,164.5C656.22,163.98 657.52,163.95 658.6,163.9C659.68,163.85 661.08,163.68 661.9,164.2C662.72,164.72 663.43,165.87 663.5,167C663.57,168.13 662.32,169.67 662.3,171C662.28,172.33 663.13,173.33 663.4,175C663.67,176.67 663.9,179.33 663.9,181C663.9,182.67 663.68,183.67 663.4,185C663.12,186.33 662.12,187.67 662.2,189C662.28,190.33 663.45,191.5 663.9,193C664.35,194.5 664.85,196.63 664.9,198C664.95,199.37 665.18,200.57 664.2,201.2C663.22,201.83 660.63,201.75 659,201.8C657.37,201.85 655.33,202.13 654.4,201.5C653.47,200.87 653.57,199.92 653.4,198C653.23,196.08 653.32,192.17 653.4,190C653.48,187.83 653.47,186.33 653.9,185C654.33,183.67 655.58,183.17 656,182C656.42,180.83 656.67,179.08 656.4,178C656.13,176.92 654.9,176.5 654.4,175.5C653.9,174.5 653.52,173.42 653.4,172C653.28,170.58 653.37,168.25 653.7,167C654.03,165.75 654.58,165.02 655.4,164.5Z" fill="#fff" stroke="#363636" stroke-width="1.0"/>
<ellipse cx="650.9" cy="179.4" rx="1.9" ry="3.2" transform="rotate(20 650.9 179.4)" fill="#fff" stroke="#363636" stroke-width="1.0"/>
<ellipse cx="648.1" cy="185.4" rx="1.7" ry="1.7" transform="rotate(0 648.1 185.4)" fill="#fff" stroke="#363636" stroke-width="1.0"/>
<ellipse cx="666.4" cy="171.9" rx="1.9" ry="1.9" transform="rotate(0 666.4 171.9)" fill="#fff" stroke="#363636" stroke-width="1.0"/>
<path d="M664.4,185.2C664.85,184.25 667.8,183.92 668.3,184.3C668.8,184.68 667.85,186.55 667.4,187.5C666.95,188.45 666.1,190.38 665.6,190C665.1,189.62 663.95,186.15 664.4,185.2Z" fill="#fff" stroke="#363636" stroke-width="1.0"/>
<ellipse cx="659.9" cy="189.6" rx="1.5" ry="2" transform="rotate(0 659.9 189.6)" fill="#fff" stroke="#363636" stroke-width="1.0"/>
<path d="M655.4,202.6C656.23,202.1 658.18,202.07 659.6,202C661.02,201.93 662.97,201.53 663.9,202.2C664.83,202.87 664.87,203.87 665.2,206C665.53,208.13 665.7,212.67 665.9,215C666.1,217.33 666.82,218.83 666.4,220C665.98,221.17 664.07,221.17 663.4,222C662.73,222.83 662.23,224.1 662.4,225C662.57,225.9 663.57,226.75 664.4,227.4C665.23,228.05 666.75,227.98 667.4,228.9C668.05,229.82 667.98,231.48 668.3,232.9C668.62,234.32 669.35,236.22 669.3,237.4C669.25,238.58 668.88,239.47 668,240C667.12,240.53 665.35,240.55 664,240.6C662.65,240.65 660.83,240.92 659.9,240.3C658.97,239.68 658.82,238.63 658.4,236.9C657.98,235.17 657.77,231.4 657.4,229.9C657.03,228.4 656.48,229.57 656.2,227.9C655.92,226.23 655.92,222.88 655.7,219.9C655.48,216.92 655.08,212.48 654.9,210C654.72,207.52 654.52,206.23 654.6,205C654.68,203.77 654.57,203.1 655.4,202.6Z" fill="#fff" stroke="#363636" stroke-width="1.0"/>
<path d="M665.8,223.4C665.9,222.6 666.3,221.32 667,220.8C667.7,220.28 669.07,220.13 670,220.3C670.93,220.47 671.9,221.18 672.6,221.8C673.3,222.42 674.3,223.3 674.2,224C674.1,224.7 672.95,225.57 672,226C671.05,226.43 669.43,226.67 668.5,226.6C667.57,226.53 666.85,226.13 666.4,225.6C665.95,225.07 665.7,224.2 665.8,223.4Z" fill="#fff" stroke="#363636" stroke-width="1.0"/>
<ellipse cx="673.3" cy="229.4" rx="1.4" ry="2" transform="rotate(25 673.3 229.4)" fill="#fff" stroke="#363636" stroke-width="1.0"/>
<ellipse cx="656.1" cy="227.2" rx="1.4" ry="1.4" transform="rotate(0 656.1 227.2)" fill="#fff" stroke="#363636" stroke-width="1.0"/>
<path d="M660.9,242.3C661.4,240.32 663.92,240.78 665.5,240.6C667.08,240.42 669.12,239.22 670.4,241.2C671.68,243.18 671.78,248.52 673.2,252.5C674.62,256.48 677.23,261.12 678.9,265.1C680.57,269.08 682.3,273.75 683.2,276.4C684.1,279.05 684.58,279.67 684.3,281C684.02,282.33 682.52,283.9 681.5,284.4C680.48,284.9 679.27,284.5 678.2,284C677.13,283.5 676.03,282.67 675.1,281.4C674.17,280.13 673.15,278.03 672.6,276.4C672.05,274.77 672.43,272.65 671.8,271.6C671.17,270.55 669.72,271.18 668.8,270.1C667.88,269.02 667.35,268.03 666.3,265.1C665.25,262.17 663.4,256.3 662.5,252.5C661.6,248.7 660.4,244.28 660.9,242.3Z" fill="#fff" stroke="#363636" stroke-width="1.0"/>
<ellipse cx="677" cy="250" rx="2.4" ry="3.4" transform="rotate(-15 677 250)" fill="#fff" stroke="#363636" stroke-width="1.0"/>
<path d="M679.6,290C679.05,287.55 680.33,287.03 681.2,286.3C682.07,285.57 683.67,285.15 684.8,285.6C685.93,286.05 687.12,287.02 688,289C688.88,290.98 689.13,295.45 690.1,297.5C691.07,299.55 692.33,300.47 693.8,301.3C695.27,302.13 697.53,301.47 698.9,302.5C700.27,303.53 700.97,305.62 702,307.5C703.03,309.38 704.37,311.28 705.1,313.8C705.83,316.32 705.35,320.3 706.4,322.6C707.45,324.9 709.73,326.13 711.4,327.6C713.07,329.07 715.27,330.2 716.4,331.4C717.53,332.6 718.27,333.7 718.2,334.8C718.13,335.9 716.72,337.32 716,338C715.28,338.68 715.3,338.85 713.9,338.9C712.5,338.95 709.48,339.13 707.6,338.3C705.72,337.47 703.85,335.47 702.6,333.9C701.35,332.33 701.35,330.98 700.1,328.9C698.85,326.82 696.78,324.22 695.1,321.4C693.42,318.58 691.77,315.4 690,312C688.23,308.6 686.23,304.67 684.5,301C682.77,297.33 680.15,292.45 679.6,290Z" fill="#fff" stroke="#363636" stroke-width="1.0"/>
<path d="M684.6,289.4C686.1,292 690.47,299.5 693.6,305C696.73,310.5 700.17,317.33 703.4,322.4C706.63,327.47 711.4,333.23 713,335.4" fill="none" stroke="#c6c6c6" stroke-width="4.6" stroke-linecap="round"/>
<path d="M679.6,290C679.05,287.55 680.33,287.03 681.2,286.3C682.07,285.57 683.67,285.15 684.8,285.6C685.93,286.05 687.12,287.02 688,289C688.88,290.98 689.13,295.45 690.1,297.5C691.07,299.55 692.33,300.47 693.8,301.3C695.27,302.13 697.53,301.47 698.9,302.5C700.27,303.53 700.97,305.62 702,307.5C703.03,309.38 704.37,311.28 705.1,313.8C705.83,316.32 705.35,320.3 706.4,322.6C707.45,324.9 709.73,326.13 711.4,327.6C713.07,329.07 715.27,330.2 716.4,331.4C717.53,332.6 718.27,333.7 718.2,334.8C718.13,335.9 716.72,337.32 716,338C715.28,338.68 715.3,338.85 713.9,338.9C712.5,338.95 709.48,339.13 707.6,338.3C705.72,337.47 703.85,335.47 702.6,333.9C701.35,332.33 701.35,330.98 700.1,328.9C698.85,326.82 696.78,324.22 695.1,321.4C693.42,318.58 691.77,315.4 690,312C688.23,308.6 686.23,304.67 684.5,301C682.77,297.33 680.15,292.45 679.6,290Z" fill="none" stroke="#363636" stroke-width="1"/>
<path d="M692.6,293.6C692.43,292.6 693.27,290.97 694,290.6C694.73,290.23 696.13,291 697,291.4C697.87,291.8 699.03,292.23 699.2,293C699.37,293.77 698.7,295.4 698,296C697.3,296.6 695.9,297 695,296.6C694.1,296.2 692.77,294.6 692.6,293.6Z" fill="#fff" stroke="#363636" stroke-width="1.0"/>
<ellipse cx="708.9" cy="299.8" rx="2.4" ry="1.9" transform="rotate(-10 708.9 299.8)" fill="#fff" stroke="#363636" stroke-width="1.0"/>
<path d="M710.6,320.4C710.47,319.23 711.03,317.47 711.6,316.6C712.17,315.73 713.27,315.07 714,315.2C714.73,315.33 715.43,316.47 716,317.4C716.57,318.33 717.4,319.8 717.4,320.8C717.4,321.8 716.83,322.93 716,323.4C715.17,323.87 713.3,324.1 712.4,323.6C711.5,323.1 710.73,321.57 710.6,320.4Z" fill="#fff" stroke="#363636" stroke-width="1.0"/>
<ellipse cx="694.5" cy="333.9" rx="2.8" ry="2.2" transform="rotate(-30 694.5 333.9)" fill="#fff" stroke="#363636" stroke-width="1.0"/>
<circle cx="658.6" cy="198.9" r="3.1" fill="#8c8c8c"/>
<circle cx="663.6" cy="237.8" r="3.1" fill="#8c8c8c"/>
<circle cx="679.9" cy="282.4" r="3.4" fill="#8c8c8c"/>
<path d="M716.3,337.5C717.67,336.57 720.5,335.27 722.6,335.7C724.7,336.13 726.4,337.92 728.9,340.1C731.4,342.28 735.1,346.3 737.6,348.8C740.1,351.3 742.43,353 743.9,355.1C745.37,357.2 745.35,359.52 746.4,361.4C747.45,363.28 748.95,366.2 750.2,366.4C751.45,366.6 752.43,362.6 753.9,362.6C755.37,362.6 757.12,365.13 759,366.4C760.88,367.67 763.43,368.73 765.2,370.2C766.97,371.67 768.97,373.53 769.6,375.2C770.23,376.87 770.15,378.73 769,380.2C767.85,381.67 765,383.58 762.7,384C760.4,384.42 758.33,384.17 755.2,382.7C752.07,381.23 747.67,378.13 743.9,375.2C740.13,372.27 735.73,367.82 732.6,365.1C729.47,362.38 726.57,360.77 725.1,358.9C723.63,357.03 724.85,355.15 723.8,353.9C722.75,352.65 720.25,352.67 718.8,351.4C717.35,350.13 715.83,347.98 715.1,346.3C714.37,344.62 714.2,342.77 714.4,341.3C714.6,339.83 714.93,338.43 716.3,337.5Z" fill="#fff" stroke="#363636" stroke-width="1.0"/>
<path d="M748.3,352.6C748.52,351.23 750.13,350.12 751.5,350C752.87,349.88 755.37,350.95 756.5,351.9C757.63,352.85 758.72,354.85 758.3,355.7C757.88,356.55 755.35,356.58 754,357C752.65,357.42 751.15,358.93 750.2,358.2C749.25,357.47 748.08,353.97 748.3,352.6Z" fill="#fff" stroke="#363636" stroke-width="1.0"/>
<ellipse cx="757.7" cy="360.8" rx="2.2" ry="1.5" transform="rotate(-10 757.7 360.8)" fill="#fff" stroke="#363636" stroke-width="1.0"/>
<path d="M648,255.5 L694.8,321.5 L648,384" fill="none" stroke="#444" stroke-width="0.9" stroke-linejoin="round"/>
<rect x="696.6" y="314.7" width="7.6" height="9.6" fill="#9a9a9a" stroke="#2a2a2a" stroke-width="1.3"/>
<path d="M668.8,132.2C669.2,133.1 670.4,136.2 671.2,137.6C672,139 672.6,139.9 673.6,140.6C674.6,141.3 676.23,141.5 677.2,141.8C678.17,142.1 679.03,142.3 679.4,142.4" fill="none" stroke="#8f1d58" stroke-width="2.4" stroke-linecap="round"/>
<path d="M681.6,136C681.3,136.97 680.33,140.13 679.8,141.8C679.27,143.47 678.53,144.5 678.4,146C678.27,147.5 678.9,150 679,150.8" fill="none" stroke="#8f1d58" stroke-width="2.0" stroke-linecap="round"/>
<path d="M671.2,141.8C671.6,142.5 673.6,144.7 673.6,146C673.6,147.3 672,148.3 671.2,149.6C670.4,150.9 669.2,153.1 668.8,153.8" fill="none" stroke="#8f1d58" stroke-width="2.2" stroke-linecap="round"/>
<path d="M656.2,146C656.8,146.3 658.7,147.03 659.8,147.8C660.9,148.57 661.87,150.2 662.8,150.6C663.73,151 664.97,150.27 665.4,150.2" fill="none" stroke="#8f1d58" stroke-width="2.4" stroke-linecap="round"/>
<path d="M658,148.6C658.42,149.08 659.77,150.7 660.5,151.5C661.23,152.3 662.08,153.08 662.4,153.4" fill="none" stroke="#8f1d58" stroke-width="1.8" stroke-linecap="round"/>
<path d="M676.4,148.6C675.73,149.27 673.73,151.47 672.4,152.6C671.07,153.73 668.93,154.43 668.4,155.4C667.87,156.37 669.07,157.9 669.2,158.4" fill="none" stroke="#8f1d58" stroke-width="2.2" stroke-linecap="round"/>
<path d="M677.2,144.8C677.6,145.6 678.9,148 679.6,149.6C680.3,151.2 680.83,153.27 681.4,154.4C681.97,155.53 682.73,156.07 683,156.4" fill="none" stroke="#8f1d58" stroke-width="2.2" stroke-linecap="round"/>
<path d="M669.2,158.4C669.27,158.75 669.47,159.83 669.6,160.5C669.73,161.17 669.93,162.08 670,162.4" fill="none" stroke="#777" stroke-width="0.8"/>
<path d="M683,156.4C683.17,156.5 683.7,156.77 684,157C684.3,157.23 684.67,157.67 684.8,157.8" fill="none" stroke="#777" stroke-width="0.8"/>
<path d="M615.9,127.6C616.35,128.03 617.55,129.17 618.6,130.2C619.65,131.23 620.93,132.5 622.2,133.8C623.47,135.1 625.1,137.78 626.2,138C627.3,138.22 628.37,135.58 628.8,135.1C629,135.75 629.4,138.05 630,139C630.6,139.95 631.4,140.4 632.4,140.8C633.4,141.2 634.8,141.55 636,141.4C637.2,141.25 638.63,140.57 639.6,139.9C640.57,139.23 641.25,138.32 641.8,137.4C642.35,136.48 642.72,134.9 642.9,134.4C643.15,134.67 643.55,136.33 644.4,136C645.25,135.67 646.8,133.3 648,132.4C649.2,131.5 651,130.9 651.6,130.6C651.2,131.2 649.82,133.37 649.2,134.2C648.58,135.03 648.12,135.37 647.9,135.6C648.15,135.6 648.83,135.53 649.4,135.6C649.97,135.67 650.98,135.93 651.3,136C650.55,136.27 648.05,136.97 646.8,137.6C645.55,138.23 644.4,139.07 643.8,139.8C643.2,140.53 642.9,141.38 643.2,142C643.5,142.62 645.2,143.25 645.6,143.5C645.2,143.68 643.85,143.85 643.2,144.6C642.55,145.35 641.8,146.83 641.7,148C641.6,149.17 641.95,150.4 642.6,151.6C643.25,152.8 644.6,154.1 645.6,155.2C646.6,156.3 647.6,157.3 648.6,158.2C649.6,159.1 651.1,160.2 651.6,160.6C651.13,160.47 649.47,159.98 648.8,159.8C648.13,159.62 647.8,159.55 647.6,159.5C647.55,159.75 647.43,160.52 647.3,161C647.17,161.48 646.88,162.17 646.8,162.4C646.5,161.8 645.9,159.8 645,158.8C644.1,157.8 642.7,156.9 641.4,156.4C640.1,155.9 638.7,155.6 637.2,155.8C635.7,156 633.9,156.8 632.4,157.6C630.9,158.4 629.4,159.5 628.2,160.6C627,161.7 626.05,163.05 625.2,164.2C624.35,165.35 623.45,166.95 623.1,167.5C623.05,166.65 622.95,164.05 622.8,162.4C622.65,160.75 622.7,158.85 622.2,157.6C621.7,156.35 620.6,155.2 619.8,154.9C619,154.6 618.35,155 617.4,155.8C616.45,156.6 614.65,159.05 614.1,159.7C613.82,159.68 613.05,159.45 612.4,159.6C611.75,159.75 611.17,160.13 610.2,160.6C609.23,161.07 607.2,162.1 606.6,162.4C606.9,162 607.5,160.9 608.4,160C609.3,159.1 610.8,157.9 612,157C613.2,156.1 614.8,155.2 615.6,154.6C616.4,154 617.1,153.77 616.8,153.4C616.5,153.03 614.3,152.57 613.8,152.4C614.7,151.92 617.6,150.48 619.2,149.5C620.8,148.52 622.45,147.52 623.4,146.5C624.35,145.48 624.9,144.25 624.9,143.4C624.9,142.55 624.15,141.98 623.4,141.4C622.65,140.82 620.9,140.15 620.4,139.9C620.6,139.62 622.1,139.58 621.6,138.2C621.1,136.82 618.35,133.37 617.4,131.6C616.45,129.83 616.15,128.27 615.9,127.6Z" fill="#fad48d" stroke="#45443a" stroke-width="1.35" stroke-linejoin="round" />
<circle cx="631.2" cy="148.6" r="5" fill="url(#nuc)"/>
<path d="M636.6,99.4C636.8,99.6 637.37,100.23 637.8,100.6C638.23,100.97 638.97,101.43 639.2,101.6C639.33,101.3 639.68,100.37 640,99.8C640.32,99.23 640.92,98.47 641.1,98.2C641.55,98.9 642.65,101.4 643.8,102.4C644.95,103.4 646.3,104.15 648,104.2C649.7,104.25 652.2,103.5 654,102.7C655.8,101.9 657.4,100.65 658.8,99.4C660.2,98.15 661.4,96.4 662.4,95.2C663.4,94 664.4,92.7 664.8,92.2C664.8,93 664.7,95.4 664.8,97C664.9,98.6 664.8,100.55 665.4,101.8C666,103.05 667.3,104.5 668.4,104.5C669.5,104.5 670.8,102.65 672,101.8C673.2,100.95 674.05,100.15 675.6,99.4C677.15,98.65 680.35,97.65 681.3,97.3C680.75,97.85 679.15,99.55 678,100.6C676.85,101.65 675.47,102.7 674.4,103.6C673.33,104.5 672.07,105.6 671.6,106C671.83,106.1 672.53,106.32 673,106.6C673.47,106.88 674.17,107.52 674.4,107.7C673.8,108.15 672.2,109.45 670.8,110.4C669.4,111.35 667.1,112.4 666,113.4C664.9,114.4 664.2,115.5 664.2,116.4C664.2,117.3 665.3,118.2 666,118.8C666.7,119.4 668,119.8 668.4,120C668,120.15 666.2,120.4 666,120.9C665.8,121.4 666.4,121.85 667.2,123C668,124.15 669.8,126.3 670.8,127.8C671.8,129.3 672.8,131.3 673.2,132C672.5,131.3 670.4,129.2 669,127.8C667.6,126.4 666.1,124.7 664.8,123.6C663.5,122.5 662.5,121.8 661.2,121.2C659.9,120.6 658.2,120.4 657,120C655.8,119.6 655,118.95 654,118.8C653,118.65 652,118.8 651,119.1C650,119.4 649,119.7 648,120.6C647,121.5 646.17,123.27 645,124.5C643.83,125.73 642.5,126.95 641,128C639.5,129.05 636.83,130.33 636,130.8C636.67,130 638.7,127.3 640,126C641.3,124.7 643.17,123.5 643.8,123C643.33,123.17 641.9,123.7 641,124C640.1,124.3 638.83,124.67 638.4,124.8C639,124.17 641,122.03 642,121C643,119.97 644.4,119.27 644.4,118.6C644.4,117.93 642.4,117.27 642,117C642.6,116.5 644.9,115 645.6,114C646.3,113 646.6,112.23 646.2,111C645.8,109.77 644.4,107.83 643.2,106.6C642,105.37 640.1,104.8 639,103.6C637.9,102.4 637,100.1 636.6,99.4Z" fill="#fad48d" stroke="#45443a" stroke-width="1.35" stroke-linejoin="round" />
<circle cx="657" cy="110.2" r="5" fill="url(#nuc)"/>
<g>
<path d="M749.5,419C748.85,417.75 746.45,413.92 745.6,411.5C744.75,409.08 744.33,406.68 744.4,404.5C744.47,402.32 745.73,399.42 746,398.4" fill="none" stroke="#27a7dc" stroke-width="3.4" stroke-linecap="round" stroke-linejoin="round"/>
<path d="M746,398.4C746.4,397.25 748.1,393.45 748.4,391.5C748.7,389.55 748.57,388.18 747.8,386.7C747.02,385.22 744.42,383.32 743.75,382.65" fill="none" stroke="#27a7dc" stroke-width="2.0" stroke-linecap="round" stroke-linejoin="round"/>
<path d="M748.3,390C748.47,389.42 749.16,387.5 749.3,386.5C749.44,385.5 749.17,384.42 749.15,384" fill="none" stroke="#27a7dc" stroke-width="1.3" stroke-linecap="round" stroke-linejoin="round"/>
<path d="M746.5,400C747.47,399.98 750.58,400.12 752.3,399.85C754.02,399.58 755.6,399.02 756.8,398.4C758,397.78 759.05,396.52 759.5,396.15" fill="none" stroke="#27a7dc" stroke-width="1.9" stroke-linecap="round" stroke-linejoin="round"/>
<path d="M762,418.5C762.73,417.25 765.27,413.33 766.4,411C767.53,408.67 768.17,406.42 768.8,404.5C769.43,402.58 769.97,400.33 770.2,399.5" fill="none" stroke="#27a7dc" stroke-width="3.0" stroke-linecap="round" stroke-linejoin="round"/>
<path d="M770.2,399.5C770.43,398.92 770.91,397.01 771.6,396C772.29,394.99 773.89,393.88 774.35,393.45" fill="none" stroke="#27a7dc" stroke-width="1.7" stroke-linecap="round" stroke-linejoin="round"/>
<path d="M768.5,406.5C769.4,405.9 772.17,403.88 773.9,402.9C775.62,401.92 778.02,401.02 778.85,400.65" fill="none" stroke="#27a7dc" stroke-width="1.8" stroke-linecap="round" stroke-linejoin="round"/>
<path d="M749.5,425.6C748.08,425.8 743.23,426.7 741,426.8C738.77,426.9 737.67,426.75 736.1,426.2C734.53,425.65 732.35,423.95 731.6,423.5" fill="none" stroke="#27a7dc" stroke-width="3.2" stroke-linecap="round" stroke-linejoin="round"/>
<path d="M731.6,423.5C730.85,422.75 728.9,420.35 727.1,419C725.3,417.65 721.85,416 720.8,415.4" fill="none" stroke="#27a7dc" stroke-width="1.8" stroke-linecap="round" stroke-linejoin="round"/>
<path d="M731,422.8C729.75,422.69 725.95,421.88 723.5,422.15C721.05,422.42 717.5,424.02 716.3,424.4" fill="none" stroke="#27a7dc" stroke-width="1.7" stroke-linecap="round" stroke-linejoin="round"/>
<path d="M738,427C736.93,427.77 733.42,430.38 731.6,431.6C729.78,432.82 728.6,433.85 727.1,434.3C725.6,434.75 723.35,434.3 722.6,434.3" fill="none" stroke="#27a7dc" stroke-width="1.9" stroke-linecap="round" stroke-linejoin="round"/>
<path d="M754.6,428C754.4,429.42 753.93,434.1 753.4,436.5C752.87,438.9 752.63,440.52 751.4,442.4C750.17,444.28 746.9,446.9 746,447.8" fill="none" stroke="#27a7dc" stroke-width="3.0" stroke-linecap="round" stroke-linejoin="round"/>
<path d="M751,440.6C750.58,440.77 749.33,441.45 748.5,441.6C747.67,441.75 746.42,441.52 746,441.5" fill="none" stroke="#27a7dc" stroke-width="1.5" stroke-linecap="round" stroke-linejoin="round"/>
<path d="M762,426C763.23,426.6 766.97,428.92 769.4,429.6C771.83,430.28 774.2,429.77 776.6,430.1C779,430.43 782.6,431.35 783.8,431.6" fill="none" stroke="#27a7dc" stroke-width="3.2" stroke-linecap="round" stroke-linejoin="round"/>
<path d="M783.8,431.6C784.7,432.35 787.55,434.3 789.2,436.1C790.85,437.9 792.95,441.35 793.7,442.4" fill="none" stroke="#27a7dc" stroke-width="1.9" stroke-linecap="round" stroke-linejoin="round"/>
<path d="M776.6,429.5C777.5,428.8 780.58,426.75 782,425.3C783.42,423.85 784.62,421.55 785.15,420.8" fill="none" stroke="#27a7dc" stroke-width="1.8" stroke-linecap="round" stroke-linejoin="round"/>
<path d="M783,425.3C783.67,425.18 785.67,424.68 787,424.6C788.33,424.53 790.33,424.81 791,424.85" fill="none" stroke="#27a7dc" stroke-width="1.4" stroke-linecap="round" stroke-linejoin="round"/>
<path d="M784.7,430.9C785.92,431.05 789.7,431.23 792,431.8C794.3,432.37 797.42,433.88 798.5,434.3" fill="none" stroke="#5cc3e6" stroke-width="1.5" stroke-linecap="round" stroke-linejoin="round"/>
<path d="M747.6,417.4C747.9,416.4 749.6,415.97 751,416C752.4,416.03 754.33,417.6 756,417.6C757.67,417.6 759.6,416.17 761,416C762.4,415.83 764,415.77 764.4,416.6C764.8,417.43 763.47,419.3 763.4,421C763.33,422.7 764.48,425.38 764,426.8C763.52,428.22 761.75,428.67 760.5,429.5C759.25,430.33 757.92,431.72 756.5,431.8C755.08,431.88 753.35,430.8 752,430C750.65,429.2 748.87,428.33 748.4,427C747.93,425.67 749.33,423.6 749.2,422C749.07,420.4 747.3,418.4 747.6,417.4Z" fill="#27a7dc" stroke="#27a7dc" stroke-width="0.6"/>
<circle cx="755.9" cy="422.6" r="2.6" fill="#176fcb"/>
</g>
<path d="M755.5,437.6C755.95,438.03 757.15,439.17 758.2,440.2C759.25,441.23 760.53,442.5 761.8,443.8C763.07,445.1 764.7,447.78 765.8,448C766.9,448.22 767.97,445.58 768.4,445.1C768.6,445.75 769,448.05 769.6,449C770.2,449.95 771,450.4 772,450.8C773,451.2 774.4,451.55 775.6,451.4C776.8,451.25 778.23,450.57 779.2,449.9C780.17,449.23 780.85,448.32 781.4,447.4C781.95,446.48 782.32,444.9 782.5,444.4C782.75,444.67 783.15,446.33 784,446C784.85,445.67 786.4,443.3 787.6,442.4C788.8,441.5 790.6,440.9 791.2,440.6C790.8,441.2 789.42,443.37 788.8,444.2C788.18,445.03 787.72,445.37 787.5,445.6C787.75,445.6 788.43,445.53 789,445.6C789.57,445.67 790.58,445.93 790.9,446C790.15,446.27 787.65,446.97 786.4,447.6C785.15,448.23 784,449.07 783.4,449.8C782.8,450.53 782.5,451.38 782.8,452C783.1,452.62 784.8,453.25 785.2,453.5C784.8,453.68 783.45,453.85 782.8,454.6C782.15,455.35 781.4,456.83 781.3,458C781.2,459.17 781.55,460.4 782.2,461.6C782.85,462.8 784.2,464.1 785.2,465.2C786.2,466.3 787.2,467.3 788.2,468.2C789.2,469.1 790.7,470.2 791.2,470.6C790.73,470.47 789.07,469.98 788.4,469.8C787.73,469.62 787.4,469.55 787.2,469.5C787.15,469.75 787.03,470.52 786.9,471C786.77,471.48 786.48,472.17 786.4,472.4C786.1,471.8 785.5,469.8 784.6,468.8C783.7,467.8 782.3,466.9 781,466.4C779.7,465.9 778.3,465.6 776.8,465.8C775.3,466 773.5,466.8 772,467.6C770.5,468.4 769,469.5 767.8,470.6C766.6,471.7 765.65,473.05 764.8,474.2C763.95,475.35 763.05,476.95 762.7,477.5C762.65,476.65 762.55,474.05 762.4,472.4C762.25,470.75 762.3,468.85 761.8,467.6C761.3,466.35 760.2,465.2 759.4,464.9C758.6,464.6 757.95,465 757,465.8C756.05,466.6 754.25,469.05 753.7,469.7C753.42,469.68 752.65,469.45 752,469.6C751.35,469.75 750.77,470.13 749.8,470.6C748.83,471.07 746.8,472.1 746.2,472.4C746.5,472 747.1,470.9 748,470C748.9,469.1 750.4,467.9 751.6,467C752.8,466.1 754.4,465.2 755.2,464.6C756,464 756.7,463.77 756.4,463.4C756.1,463.03 753.9,462.57 753.4,462.4C754.3,461.92 757.2,460.48 758.8,459.5C760.4,458.52 762.05,457.52 763,456.5C763.95,455.48 764.5,454.25 764.5,453.4C764.5,452.55 763.75,451.98 763,451.4C762.25,450.82 760.5,450.15 760,449.9C760.2,449.62 761.7,449.58 761.2,448.2C760.7,446.82 757.95,443.37 757,441.6C756.05,439.83 755.75,438.27 755.5,437.6Z" fill="#fad48d" stroke="#45443a" stroke-width="1.35" stroke-linejoin="round" />
<circle cx="770.8" cy="458.6" r="5" fill="url(#nuc)"/>
<circle cx="846.2" cy="365.6" r="14.5" fill="none" stroke="#f0d6e4" stroke-width="9" opacity="0.32"/>
<path d="M826.01,358.95C826.19,359.08 826.34,359.93 827.09,359.78C827.84,359.63 829.25,358.83 830.53,358.05C831.81,357.27 833.29,355.92 834.76,355.12C836.23,354.31 838.14,353.96 839.34,353.22C840.54,352.47 841.48,351.71 841.94,350.65C842.4,349.6 842.46,347.84 842.07,346.9C841.69,345.95 840.63,345.3 839.63,344.98C838.63,344.66 836.77,344.53 836.05,344.95C835.32,345.38 834.97,346.66 835.28,347.51C835.6,348.36 836.78,349.14 837.96,350.06C839.14,350.98 841.09,352.27 842.35,353.04C843.62,353.8 844.71,354.4 845.56,354.64C846.42,354.87 847.06,354.81 847.46,354.42C847.85,354.03 848.15,353.26 847.93,352.3C847.7,351.35 847.05,349.61 846.11,348.7C845.17,347.78 843.32,346.95 842.26,346.81C841.2,346.67 840.05,347.48 839.75,347.86C839.45,348.24 839.75,348.53 840.48,349.07C841.21,349.6 842.85,350.44 844.14,351.1C845.42,351.76 846.9,352.59 848.16,353.02C849.43,353.46 850.5,353.91 851.71,353.7C852.92,353.49 854.5,352.57 855.44,351.75C856.37,350.93 857.08,349.91 857.32,348.77C857.56,347.64 857.25,345.82 856.86,344.93C856.47,344.05 855.38,343.31 854.97,343.44C854.55,343.58 854.27,344.59 854.37,345.77C854.48,346.94 855.27,348.76 855.6,350.49C855.94,352.22 856.09,354.65 856.38,356.16C856.67,357.68 856.98,358.82 857.36,359.6C857.74,360.38 858.03,360.93 858.66,360.84C859.29,360.75 860.63,360.01 861.14,359.05C861.65,358.09 862.02,356.24 861.72,355.06C861.42,353.89 860.14,352.53 859.33,351.99C858.53,351.45 857.49,351.38 856.9,351.85C856.3,352.31 855.92,353.69 855.77,354.78C855.62,355.87 855.93,357.22 856.01,358.37C856.1,359.51 855.84,360.83 856.28,361.66C856.73,362.48 857.71,363.03 858.7,363.34C859.7,363.65 861.01,363.86 862.25,363.53C863.49,363.2 865.23,362.26 866.13,361.36C867.03,360.47 867.5,358.85 867.65,358.16C867.8,357.47 867.38,356.89 867.03,357.22C866.67,357.54 866.21,358.76 865.54,360.1C864.87,361.44 863.85,363.6 862.99,365.23C862.13,366.86 861.08,368.56 860.36,369.88C859.64,371.2 858.78,372.2 858.68,373.14C858.57,374.08 859.06,375.1 859.74,375.53C860.43,375.96 861.76,376.12 862.8,375.71C863.83,375.31 865.44,374.11 865.96,373.1C866.48,372.09 866.47,370.43 865.94,369.65C865.4,368.88 863.87,368.47 862.74,368.45C861.6,368.43 860.31,369.13 859.11,369.55C857.92,369.97 856.42,370.47 855.57,370.98C854.71,371.48 854.12,371.94 853.98,372.58C853.84,373.22 854.04,374.07 854.73,374.81C855.42,375.55 856.87,376.7 858.12,377.03C859.37,377.37 861.03,377.07 862.22,376.79C863.42,376.52 864.95,375.74 865.28,375.39C865.61,375.04 865.06,374.62 864.19,374.71C863.33,374.81 861.65,375.48 860.09,375.94C858.53,376.4 856.41,376.89 854.85,377.49C853.28,378.1 851.85,378.83 850.68,379.57C849.5,380.31 848.37,381.14 847.8,381.93C847.22,382.73 846.92,383.42 847.24,384.34C847.55,385.26 848.72,386.98 849.69,387.45C850.65,387.93 852.32,387.64 853.01,387.18C853.69,386.72 854.09,385.62 853.81,384.7C853.52,383.78 852.34,382.66 851.31,381.68C850.27,380.69 848.7,379.65 847.61,378.79C846.52,377.94 845.5,377.04 844.76,376.56C844.02,376.08 843.57,375.53 843.16,375.91C842.75,376.3 842.17,377.83 842.29,378.86C842.41,379.89 843.03,381.09 843.88,382.11C844.72,383.12 846.4,384.58 847.38,384.93C848.37,385.28 849.54,384.6 849.79,384.23C850.03,383.86 849.6,383.36 848.88,382.71C848.15,382.05 846.62,381.13 845.43,380.29C844.25,379.44 843.01,378.19 841.77,377.65C840.52,377.11 839.15,377.05 837.98,377.05C836.82,377.05 835.67,377.05 834.76,377.63C833.86,378.2 832.92,379.39 832.54,380.53C832.16,381.67 832.17,383.67 832.48,384.48C832.79,385.29 833.98,385.63 834.42,385.39C834.86,385.15 835.06,384.27 835.1,383.05C835.14,381.82 834.77,379.75 834.67,378.05C834.57,376.35 834.48,374.3 834.47,372.83C834.47,371.37 834.84,370.04 834.63,369.27C834.42,368.5 833.96,368.08 833.22,368.18C832.48,368.29 830.82,368.97 830.21,369.89C829.6,370.82 829.5,372.44 829.59,373.71C829.67,374.98 830.11,376.86 830.71,377.52C831.3,378.17 832.44,378.18 833.16,377.66C833.87,377.13 834.57,375.56 835,374.38C835.43,373.2 835.67,371.69 835.74,370.56C835.81,369.42 835.86,368.41 835.43,367.58C835,366.76 834.17,366.04 833.16,365.61C832.15,365.19 830.63,364.83 829.35,365.03C828.06,365.22 826.42,366.01 825.46,366.79C824.5,367.57 823.82,369.09 823.57,369.69C823.33,370.3 823.47,370.82 823.98,370.43C824.48,370.05 825.56,368.67 826.58,367.39C827.6,366.11 828.96,364.18 830.1,362.74C831.23,361.3 832.49,359.87 833.38,358.76C834.28,357.64 835.27,356.9 835.47,356.06C835.68,355.23 835.35,354.28 834.61,353.75C833.87,353.23 832.11,352.63 831.02,352.92C829.92,353.21 828.59,354.53 828.02,355.48C827.46,356.44 827.15,357.89 827.62,358.67C828.1,359.44 829.67,359.98 830.88,360.14C832.09,360.31 834.22,359.75 834.89,359.67" fill="none" stroke="#b64b83" stroke-width="0.55" stroke-linejoin="round"/>
<path d="M841.6,359.11C841.87,359.06 842.85,359.04 843.25,358.76C843.64,358.48 843.92,358.16 843.99,357.43C844.05,356.69 843.97,355.38 843.62,354.35C843.27,353.31 842.74,352.16 841.87,351.2C840.99,350.23 839.56,349.06 838.37,348.56C837.19,348.05 835.59,347.98 834.76,348.16C833.93,348.34 833.43,349.2 833.37,349.64C833.31,350.08 833.74,350.51 834.4,350.78C835.06,351.04 836.19,351.06 837.35,351.24C838.5,351.42 840.03,351.54 841.32,351.85C842.6,352.15 843.95,352.91 845.05,353.06C846.15,353.21 847.04,353.03 847.92,352.73C848.8,352.43 849.67,351.87 850.32,351.26C850.97,350.65 851.54,349.9 851.82,349.08C852.09,348.26 852.14,347.09 851.98,346.35C851.81,345.6 851.21,344.87 850.83,344.61C850.44,344.35 849.84,344.39 849.65,344.78C849.46,345.18 849.5,345.91 849.68,346.98C849.86,348.05 850.37,349.74 850.72,351.2C851.06,352.65 851.47,354.37 851.73,355.7C851.98,357.03 852.16,358.21 852.24,359.19C852.31,360.17 851.87,361.16 852.17,361.6C852.47,362.05 853.27,361.98 854.03,361.88C854.8,361.78 855.91,361.53 856.76,361.02C857.6,360.51 858.5,359.77 859.09,358.83C859.68,357.9 860.15,356.53 860.32,355.39C860.49,354.26 860.42,352.69 860.09,352.01C859.76,351.34 858.81,351.21 858.34,351.34C857.87,351.48 857.5,352.1 857.28,352.83C857.07,353.57 857.05,354.72 857.03,355.76C857.01,356.8 857.13,358.01 857.14,359.06C857.16,360.1 856.86,361.21 857.13,362.03C857.4,362.86 858.05,363.45 858.76,363.98C859.47,364.52 860.35,365.03 861.4,365.26C862.46,365.49 864.05,365.58 865.08,365.38C866.12,365.17 866.92,364.59 867.61,364.03C868.29,363.46 869.14,362.46 869.19,361.99C869.25,361.52 868.52,361.13 867.95,361.22C867.39,361.32 866.7,361.84 865.81,362.57C864.91,363.29 863.78,364.55 862.58,365.55C861.38,366.54 859.94,367.76 858.61,368.54C857.29,369.33 855.67,369.78 854.65,370.25C853.62,370.72 852.89,370.91 852.47,371.36C852.04,371.82 851.93,372.3 852.1,372.98C852.27,373.66 852.86,374.78 853.49,375.44C854.11,376.1 854.89,376.6 855.87,376.93C856.84,377.26 858.39,377.56 859.32,377.41C860.25,377.27 861.17,376.6 861.43,376.07C861.69,375.55 861.32,374.68 860.89,374.26C860.45,373.83 859.63,373.63 858.82,373.53C858.01,373.44 857,373.64 856.03,373.69C855.06,373.75 853.83,373.66 853.01,373.86C852.2,374.06 851.63,374.42 851.14,374.89C850.65,375.35 850.24,375.85 850.09,376.65C849.93,377.46 849.91,378.6 850.2,379.69C850.48,380.79 851.04,382.19 851.81,383.22C852.58,384.26 853.91,385.44 854.84,385.9C855.77,386.35 856.85,386.1 857.39,385.96C857.92,385.83 858.31,385.47 858.06,385.08C857.8,384.69 856.93,384.21 855.85,383.64C854.78,383.07 853.05,382.43 851.6,381.66C850.15,380.88 848.47,379.81 847.17,378.99C845.88,378.18 844.74,377.49 843.83,376.79C842.92,376.09 842.41,375.09 841.73,374.77C841.06,374.44 840.48,374.45 839.78,374.83C839.08,375.21 838.03,376.25 837.54,377.03C837.06,377.82 836.84,378.73 836.87,379.56C836.89,380.39 837.25,381.53 837.69,382C838.14,382.47 839.07,382.47 839.54,382.37C840.02,382.27 840.35,382.06 840.55,381.4C840.74,380.75 840.68,379.59 840.7,378.44C840.71,377.3 840.77,375.57 840.66,374.53C840.55,373.48 840.32,372.78 840.03,372.18C839.75,371.57 839.48,371.11 838.95,370.88C838.41,370.65 837.69,370.6 836.83,370.81C835.97,371.01 834.75,371.42 833.8,372.11C832.84,372.8 831.76,373.81 831.1,374.93C830.43,376.05 829.92,377.68 829.82,378.82C829.71,379.97 830.13,381.23 830.45,381.8C830.76,382.36 831.42,382.48 831.69,382.19C831.96,381.9 831.91,381.19 832.06,380.08C832.2,378.96 832.43,377.03 832.57,375.49C832.71,373.95 832.61,372.3 832.91,370.85C833.21,369.4 834.22,367.95 834.36,366.8C834.5,365.64 834.03,364.77 833.78,363.93C833.52,363.1 833.36,362.37 832.81,361.8C832.26,361.23 831.25,360.69 830.46,360.52C829.67,360.35 828.7,360.49 828.06,360.77C827.43,361.06 826.75,361.76 826.64,362.23C826.53,362.7 826.8,363.36 827.4,363.62C827.99,363.88 829.25,363.93 830.22,363.78C831.19,363.64 832.02,363.06 833.21,362.74C834.4,362.42 836.25,362.13 837.38,361.87C838.5,361.62 839.41,361.51 839.97,361.2C840.54,360.88 840.73,360.52 840.78,359.98C840.83,359.45 840.71,358.76 840.28,357.99C839.86,357.23 839.22,356.19 838.23,355.37C837.24,354.56 835.65,353.46 834.35,353.1C833.05,352.74 831.5,352.95 830.42,353.24C829.33,353.52 828.27,354.57 827.84,354.84" fill="none" stroke="#a52a6a" stroke-width="0.6" stroke-linejoin="round"/>
<path d="M848.85,355.38C849.12,355.23 850.13,355.07 850.49,354.53C850.84,353.98 851.1,352.87 850.98,352.08C850.85,351.3 850.19,350.16 849.75,349.84C849.31,349.51 848.47,349.86 848.33,350.12C848.19,350.39 848.5,350.71 848.93,351.41C849.37,352.11 850.3,353.33 850.95,354.33C851.59,355.33 852.23,356.62 852.8,357.41C853.38,358.19 853.97,358.76 854.39,359.06C854.82,359.35 855.02,359.53 855.34,359.19C855.66,358.85 856.3,357.72 856.33,357.03C856.36,356.33 855.95,355.26 855.52,355.02C855.1,354.78 854.15,355.18 853.78,355.58C853.41,355.99 853.39,356.72 853.32,357.45C853.26,358.18 853.23,359.29 853.39,359.96C853.55,360.63 853.86,361.2 854.27,361.49C854.68,361.77 855.27,361.93 855.84,361.67C856.42,361.41 857.29,360.73 857.72,359.92C858.15,359.1 858.54,357.55 858.42,356.78C858.3,356.01 857.36,355.41 857,355.29C856.65,355.17 856.39,355.48 856.27,356.08C856.16,356.68 856.25,357.9 856.3,358.9C856.34,359.91 856.39,361.18 856.56,362.1C856.73,363.02 856.79,363.88 857.3,364.4C857.81,364.92 858.98,365.25 859.63,365.23C860.28,365.21 860.97,364.71 861.18,364.29C861.4,363.86 861.12,363.01 860.94,362.69C860.76,362.38 860.6,362.14 860.1,362.41C859.6,362.68 858.68,363.58 857.96,364.31C857.23,365.04 856.35,366.06 855.76,366.79C855.18,367.53 854.57,368.15 854.44,368.71C854.32,369.28 854.6,369.88 855.01,370.17C855.43,370.47 856.28,370.68 856.95,370.49C857.63,370.3 858.61,369.6 859.06,369.01C859.5,368.43 859.7,367.41 859.64,366.99C859.57,366.57 859.17,366.38 858.68,366.5C858.19,366.61 857.21,367.17 856.68,367.69C856.14,368.21 855.71,368.96 855.48,369.6C855.25,370.25 855.14,371 855.31,371.55C855.49,372.1 855.91,372.68 856.51,372.9C857.1,373.12 858.16,373.1 858.89,372.89C859.61,372.67 860.57,371.95 860.87,371.6C861.17,371.25 861.09,370.77 860.68,370.78C860.26,370.79 859.31,371.25 858.37,371.66C857.43,372.07 856.09,372.81 855.01,373.25C853.94,373.69 852.64,373.84 851.94,374.31C851.24,374.77 850.9,375.53 850.81,376.04C850.71,376.55 850.96,377.11 851.36,377.37C851.77,377.64 852.72,377.77 853.24,377.65C853.76,377.52 854.41,377 854.47,376.63C854.53,376.26 854.14,375.76 853.59,375.42C853.03,375.09 851.98,374.88 851.16,374.63C850.34,374.39 849.31,373.94 848.68,373.97C848.04,374.01 847.57,374.4 847.35,374.83C847.14,375.25 847.06,375.94 847.38,376.54C847.71,377.13 848.5,377.95 849.3,378.38C850.11,378.82 851.52,379.13 852.22,379.13C852.91,379.13 853.56,378.74 853.48,378.4C853.41,378.05 852.53,377.35 851.78,377.07C851.02,376.79 849.9,376.81 848.97,376.73C848.05,376.66 846.99,376.42 846.2,376.62C845.42,376.82 844.67,377.37 844.28,377.9C843.9,378.44 843.73,379.32 843.89,379.84C844.05,380.36 844.79,380.77 845.23,381.03C845.68,381.3 846.45,381.68 846.58,381.45C846.71,381.23 846.47,380.49 846.03,379.69C845.6,378.88 844.67,377.53 843.98,376.61C843.29,375.7 842.49,374.84 841.9,374.19C841.32,373.54 841,372.79 840.48,372.72C839.96,372.65 839.1,373.24 838.79,373.76C838.48,374.28 838.44,375.12 838.63,375.83C838.81,376.55 839.44,377.66 839.91,378.04C840.38,378.42 841.18,378.41 841.47,378.12C841.76,377.84 841.77,377.01 841.65,376.35C841.52,375.68 841.07,374.77 840.7,374.13C840.33,373.49 839.89,372.82 839.43,372.53C838.97,372.24 838.5,372.04 837.96,372.37C837.42,372.7 836.42,373.74 836.18,374.52C835.95,375.29 836.29,376.34 836.54,377.03C836.79,377.73 837.44,378.52 837.67,378.69C837.9,378.87 837.92,378.77 837.92,378.08C837.92,377.38 837.84,375.7 837.66,374.54C837.49,373.39 837.16,372.1 836.87,371.13C836.58,370.16 836.45,369.23 835.94,368.71C835.44,368.19 834.34,367.97 833.84,368C833.34,368.03 833.11,368.44 832.95,368.87C832.79,369.31 832.8,370.21 832.88,370.63C832.96,371.04 832.99,371.54 833.43,371.34C833.88,371.14 835.04,370.14 835.56,369.42C836.07,368.69 836.22,367.74 836.53,366.99C836.84,366.24 837.43,365.47 837.43,364.92C837.43,364.38 837.05,363.89 836.52,363.72C835.99,363.54 834.93,363.5 834.25,363.88C833.57,364.25 832.85,365.2 832.44,365.95C832.04,366.71 831.67,367.95 831.83,368.4C831.99,368.86 833,368.92 833.39,368.69C833.78,368.45 833.8,367.7 834.14,366.99C834.49,366.28 835.23,365.23 835.44,364.41C835.65,363.6 835.56,362.71 835.42,362.11C835.28,361.5 835.17,361.03 834.58,360.79C833.99,360.55 832.6,360.44 831.87,360.66C831.14,360.88 830.28,361.69 830.2,362.09C830.12,362.49 830.84,363.07 831.4,363.06C831.96,363.05 832.68,362.51 833.55,362.02C834.42,361.53 835.67,360.72 836.6,360.13C837.52,359.54 838.46,358.92 839.1,358.46C839.73,358 840.34,357.76 840.41,357.36C840.48,356.97 840.05,356.33 839.53,356.09C839.02,355.84 837.97,355.75 837.31,355.89C836.65,356.03 835.78,356.57 835.58,356.93C835.39,357.29 835.63,357.77 836.14,358.03C836.65,358.29 837.83,358.46 838.63,358.48C839.43,358.5 840.36,358.4 840.94,358.17C841.52,357.93 841.99,357.55 842.12,357.06C842.25,356.57 842.16,355.78 841.71,355.2C841.26,354.63 840.24,353.81 839.41,353.59C838.57,353.36 837.36,353.68 836.7,353.86C836.05,354.03 835.43,354.47 835.48,354.63C835.53,354.79 836.14,354.73 837,354.8C837.86,354.88 839.51,355.11 840.63,355.07C841.76,355.03 842.88,354.71 843.74,354.55C844.61,354.39 845.42,354.52 845.83,354.09C846.24,353.67 846.37,352.59 846.21,352C846.06,351.42 845.35,350.78 844.88,350.58C844.42,350.38 843.59,350.49 843.41,350.8C843.23,351.11 843.39,351.81 843.81,352.45C844.22,353.09 845.19,353.96 845.91,354.65C846.64,355.33 847.5,356.13 848.17,356.55C848.84,356.97 849.5,357.14 849.94,357.16C850.37,357.17 850.68,357.13 850.79,356.66C850.89,356.19 850.61,354.72 850.57,354.33" fill="none" stroke="#8d1a55" stroke-width="1.15" stroke-linejoin="round"/>
<path d="M833.98,376.61C834.08,375.94 834.41,373.94 834.53,372.63C834.65,371.32 834.71,369.89 834.72,368.75C834.73,367.6 834.87,366.56 834.6,365.73C834.34,364.91 833.65,364.18 833.11,363.78C832.58,363.37 831.92,363.21 831.39,363.32C830.87,363.42 830.22,363.99 829.95,364.42C829.68,364.85 829.51,365.62 829.76,365.9C830.02,366.18 830.65,366.28 831.5,366.11C832.35,365.94 833.93,365.35 834.86,364.89C835.79,364.43 836.5,363.81 837.09,363.33C837.67,362.84 838.37,362.52 838.38,361.98C838.38,361.45 837.76,360.65 837.09,360.11C836.43,359.57 835.46,358.94 834.41,358.74C833.35,358.55 831.85,358.63 830.79,358.95C829.73,359.27 828.51,360.18 828.05,360.68C827.6,361.19 827.71,361.9 828.05,361.97C828.39,362.03 829.06,361.54 830.08,361.07C831.11,360.6 832.8,359.68 834.19,359.13C835.58,358.57 837.28,358.19 838.43,357.76C839.57,357.33 840.46,357.01 841.07,356.55C841.68,356.09 842.07,355.61 842.08,354.98C842.09,354.36 841.63,353.23 841.14,352.79C840.64,352.36 839.83,352.42 839.1,352.39C838.37,352.36 837.11,352.27 836.76,352.62C836.42,352.97 836.67,354 837.03,354.51C837.4,355.01 838.2,355.35 838.95,355.66C839.7,355.96 840.79,356.35 841.54,356.34C842.28,356.34 842.9,356.07 843.4,355.63C843.9,355.2 844.36,354.51 844.54,353.72C844.73,352.93 844.8,351.83 844.52,350.9C844.25,349.97 843.54,348.82 842.89,348.15C842.25,347.47 841.1,346.95 840.64,346.85C840.17,346.76 839.81,347.05 840.12,347.57C840.43,348.1 841.51,349.15 842.49,350.02C843.48,350.89 844.96,351.83 846.04,352.78C847.11,353.73 848.18,354.88 848.94,355.71C849.71,356.54 850.1,357.47 850.62,357.76C851.14,358.06 851.67,357.93 852.09,357.5C852.51,357.07 853.03,356.15 853.12,355.19C853.21,354.24 853.06,352.64 852.62,351.74C852.18,350.85 851.07,350.14 850.48,349.84C849.89,349.54 849.23,349.59 849.07,349.94C848.9,350.29 849.17,351.14 849.48,351.95C849.79,352.76 850.37,354.03 850.94,354.81C851.51,355.59 852.16,356.24 852.89,356.63C853.61,357.02 854.48,357.19 855.29,357.15C856.1,357.11 857.02,356.87 857.74,356.37C858.46,355.87 859.3,354.83 859.6,354.15C859.9,353.47 859.74,352.55 859.55,352.28C859.35,352.01 858.87,351.95 858.44,352.53C858,353.1 857.33,354.57 856.93,355.73C856.54,356.89 856.5,358.28 856.07,359.49C855.65,360.69 854.69,362.1 854.41,362.97C854.12,363.85 854.02,364.34 854.34,364.74C854.67,365.14 855.59,365.41 856.34,365.37C857.09,365.33 858.01,365.1 858.85,364.48C859.69,363.86 860.77,362.68 861.37,361.64C861.97,360.6 862.48,358.93 862.44,358.23C862.39,357.53 861.52,357.26 861.12,357.46C860.72,357.66 860.37,358.51 860.04,359.41C859.7,360.32 859.39,361.75 859.09,362.9C858.79,364.06 858.47,365.35 858.24,366.36C858,367.38 857.54,368.22 857.69,368.99C857.84,369.76 858.56,370.55 859.14,370.97C859.72,371.39 860.6,371.58 861.17,371.5C861.74,371.41 862.45,370.86 862.55,370.48C862.65,370.09 862.26,369.42 861.75,369.19C861.25,368.96 860.41,368.99 859.51,369.11C858.62,369.23 857.43,369.67 856.39,369.9C855.35,370.12 853.93,370.15 853.26,370.45C852.59,370.74 852.4,371.18 852.38,371.69C852.36,372.19 852.52,372.83 853.13,373.48C853.75,374.13 854.9,375.14 856.09,375.57C857.27,376.01 859.16,376.27 860.24,376.1C861.32,375.93 862.12,374.91 862.56,374.54C863,374.17 863.32,373.88 862.87,373.86C862.42,373.84 861.18,374.24 859.85,374.43C858.53,374.61 856.35,374.69 854.92,374.96C853.49,375.22 852.35,375.79 851.29,376.02C850.23,376.26 849.17,375.98 848.55,376.36C847.93,376.74 847.62,377.66 847.58,378.29C847.54,378.93 847.87,379.79 848.32,380.19C848.77,380.58 849.69,380.69 850.28,380.67C850.88,380.66 851.7,380.51 851.9,380.11C852.09,379.72 851.84,378.88 851.43,378.3C851.03,377.71 850.17,377.15 849.47,376.6C848.76,376.05 847.88,375.17 847.21,375.02C846.55,374.87 846,375.22 845.49,375.71C844.98,376.2 844.4,377.08 844.16,377.97C843.91,378.86 843.78,380.05 844,381.05C844.23,382.05 844.95,383.36 845.53,383.98C846.1,384.59 847.11,384.76 847.45,384.75C847.79,384.73 847.91,384.53 847.55,383.89C847.19,383.24 846.15,381.98 845.29,380.88C844.44,379.77 843.22,378.45 842.43,377.27C841.63,376.1 841.09,374.68 840.54,373.82C839.99,372.96 839.62,372.37 839.14,372.12C838.66,371.87 838.15,371.88 837.65,372.33C837.14,372.78 836.28,373.9 836.09,374.81C835.9,375.71 836.13,377.06 836.51,377.78C836.89,378.49 837.92,378.91 838.38,379.09C838.84,379.27 839.13,379.32 839.28,378.86C839.42,378.41 839.36,377.26 839.25,376.36C839.14,375.46 839.07,374.18 838.62,373.47C838.17,372.77 837.2,372.51 836.54,372.14C835.88,371.77 835.44,371.25 834.66,371.25C833.88,371.26 832.64,371.65 831.86,372.16C831.08,372.66 830.24,373.69 829.97,374.29C829.69,374.89 829.95,375.67 830.21,375.78C830.48,375.9 831.35,375.1 831.57,374.96" fill="none" stroke="#941f5b" stroke-width="0.8" stroke-linejoin="round"/>
<path d="M838.68,355.01C838.89,354.85 840.27,353.51 839.96,354.03C839.65,354.55 836.33,358.12 836.82,358.14C837.31,358.15 841.89,354.78 842.9,354.11M853.85,357.29C853.56,357.31 851.73,357 852.11,357.37C852.49,357.74 855.34,358.96 856.15,359.52C856.95,360.08 856.79,360.51 856.91,360.71M855.04,373.39C855.32,373.13 856.31,372.26 856.71,371.83C857.1,371.4 857.24,371.31 857.41,370.82C857.57,370.32 857.63,369.19 857.67,368.86M855.04,354.85C855.23,355.19 855.75,356.59 856.19,356.86C856.63,357.13 857.34,355.98 857.67,356.47C858,356.96 858.1,359.25 858.19,359.8M833.97,361.43C833.71,361.71 832.09,363.44 832.44,363.11C832.79,362.79 836.03,358.83 836.05,359.49C836.08,360.16 833.16,365.85 832.59,367.12M840.26,355.75C839.78,355.7 837.69,355.12 837.38,355.42C837.07,355.72 837.18,358.12 838.38,357.55C839.58,356.97 843.53,352.9 844.56,351.98M853.81,375.07C854.12,374.81 855.05,373.93 855.66,373.49C856.27,373.04 858.35,371.44 857.46,372.4C856.57,373.37 851.51,378.14 850.32,379.29M854.21,375.12C854.09,375.41 853.78,376.18 853.48,376.89C853.18,377.59 852.94,379.17 852.41,379.35C851.87,379.54 850.62,378.22 850.27,377.99M841.61,377.43C841.23,377.41 839.96,377.52 839.32,377.29C838.69,377.06 836.71,375.98 837.81,376.05C838.92,376.12 844.59,377.44 845.94,377.72M832.31,369.9C832.44,370.16 833.03,372.2 833.08,371.49C833.14,370.79 832.78,367.05 832.63,365.67C832.47,364.29 832.24,363.62 832.16,363.21M845.58,376.47C845.39,376.58 844.92,377.24 844.45,377.14C843.97,377.03 841.71,375.92 842.72,375.85C843.73,375.78 849.22,376.59 850.51,376.74" fill="none" stroke="#7a1247" stroke-width="1.6" stroke-linecap="round" stroke-linejoin="round"/>
<circle cx="815.4" cy="449.4" r="14.5" fill="none" stroke="#f0d6e4" stroke-width="9" opacity="0.32"/>
<path d="M811.69,436.38C812.36,436.47 814.51,437.04 815.73,436.89C816.94,436.73 818.17,436.08 818.99,435.46C819.81,434.83 820.53,434.28 820.64,433.13C820.74,431.99 820.49,429.79 819.63,428.6C818.76,427.4 816.75,426.3 815.44,425.96C814.12,425.62 812.35,425.98 811.73,426.55C811.11,427.12 811.22,428.26 811.71,429.37C812.21,430.47 813.64,432.09 814.69,433.19C815.73,434.3 817.05,435.16 817.97,435.99C818.88,436.82 819.51,437.96 820.17,438.16C820.84,438.36 821.6,437.81 821.96,437.2C822.33,436.6 822.54,435.5 822.35,434.54C822.17,433.58 821.43,432.1 820.83,431.46C820.23,430.82 819.11,430.55 818.77,430.71C818.43,430.87 818.49,431.43 818.8,432.44C819.1,433.45 819.98,435.32 820.59,436.75C821.2,438.18 821.8,439.87 822.46,441.02C823.12,442.17 823.6,443.09 824.57,443.66C825.54,444.24 827.13,444.49 828.27,444.47C829.42,444.46 830.42,444.38 831.43,443.59C832.44,442.8 833.94,441.01 834.34,439.73C834.74,438.45 834.19,436.7 833.84,435.91C833.48,435.12 832.74,434.61 832.22,434.98C831.69,435.34 831.04,436.83 830.67,438.1C830.3,439.36 830.21,441.17 829.99,442.56C829.77,443.95 829.29,445.47 829.35,446.45C829.41,447.43 829.77,448.16 830.37,448.44C830.96,448.71 832.2,448.66 832.94,448.09C833.68,447.52 834.6,446.17 834.82,445.02C835.05,443.87 834.75,442.02 834.28,441.19C833.82,440.35 832.72,439.81 832.04,439.99C831.36,440.16 830.96,441.12 830.19,442.25C829.42,443.37 828.25,445.39 827.41,446.74C826.58,448.09 825.49,449.25 825.18,450.35C824.87,451.44 825.2,452.39 825.55,453.29C825.9,454.2 826.35,455.15 827.27,455.8C828.19,456.46 829.81,457.14 831.07,457.23C832.33,457.32 834.07,456.78 834.83,456.33C835.59,455.88 835.77,454.8 835.62,454.53C835.48,454.26 834.78,454.32 833.95,454.71C833.12,455.1 831.93,456.19 830.63,456.87C829.34,457.55 827.29,458.04 826.2,458.79C825.12,459.54 824.51,460.58 824.13,461.36C823.75,462.14 823.4,462.76 823.92,463.48C824.45,464.2 825.92,465.49 827.28,465.68C828.63,465.87 830.78,465.36 832.06,464.63C833.34,463.9 834.72,462.29 834.95,461.3C835.18,460.31 834.47,459.23 833.44,458.71C832.41,458.19 830.39,458.26 828.75,458.18C827.1,458.11 825,458.17 823.56,458.24C822.13,458.31 820.93,458.22 820.12,458.62C819.32,459.02 818.91,459.8 818.74,460.63C818.56,461.46 818.66,462.72 819.09,463.59C819.51,464.45 820.44,465.24 821.27,465.82C822.1,466.4 823.63,467.05 824.09,467.07C824.54,467.08 824.53,466.31 824.01,465.93C823.49,465.55 822.22,465.3 820.96,464.77C819.71,464.25 817.86,463.31 816.48,462.78C815.09,462.26 813.8,461.75 812.65,461.62C811.51,461.49 810.46,461.43 809.58,462.01C808.71,462.58 807.62,463.84 807.39,465.08C807.15,466.31 807.4,468.14 808.17,469.4C808.93,470.67 810.76,472.18 811.98,472.66C813.2,473.14 814.89,472.79 815.49,472.29C816.1,471.79 815.99,470.76 815.59,469.65C815.18,468.54 813.89,466.99 813.06,465.62C812.23,464.24 811.37,462.36 810.61,461.4C809.85,460.43 809.14,459.99 808.5,459.84C807.87,459.69 807.23,459.86 806.78,460.5C806.34,461.15 805.78,462.62 805.82,463.7C805.87,464.77 806.49,466.39 807.06,466.95C807.62,467.51 808.84,467.35 809.2,467.04C809.56,466.74 809.4,466.2 809.21,465.1C809.03,464.01 808.45,461.99 808.08,460.48C807.71,458.97 807.54,457.23 806.99,456.06C806.45,454.89 805.63,454.15 804.8,453.46C803.96,452.78 803.12,452.1 802.01,451.97C800.9,451.85 799.29,452.02 798.14,452.73C796.98,453.43 795.58,455.02 795.09,456.22C794.61,457.42 794.93,459.18 795.22,459.91C795.5,460.65 796.25,461.01 796.81,460.63C797.37,460.25 798.01,458.87 798.58,457.64C799.16,456.41 799.84,454.56 800.26,453.24C800.68,451.92 801.06,450.63 801.12,449.72C801.17,448.81 801.07,448.08 800.59,447.8C800.11,447.51 799.03,447.49 798.22,448.01C797.41,448.53 796.18,449.79 795.74,450.91C795.3,452.03 795.29,453.87 795.57,454.72C795.84,455.57 796.57,456.21 797.38,456.01C798.18,455.81 799.44,454.57 800.4,453.51C801.37,452.45 802.27,450.83 803.18,449.66C804.09,448.49 805.35,447.5 805.84,446.5C806.33,445.5 806.41,444.66 806.14,443.68C805.87,442.71 805.03,441.38 804.21,440.65C803.4,439.93 802.33,439.46 801.25,439.33C800.16,439.19 798.49,439.54 797.68,439.84C796.88,440.15 796.34,440.96 796.44,441.16C796.54,441.35 797.32,441.28 798.3,441.01C799.27,440.73 800.93,440.03 802.27,439.5C803.62,438.96 805.23,438.36 806.37,437.82C807.5,437.28 808.64,437.01 809.07,436.23C809.49,435.46 809.4,433.92 808.92,433.18C808.43,432.43 807.49,431.98 806.16,431.75C804.82,431.51 802.2,431.2 800.92,431.77C799.63,432.34 798.67,434.24 798.42,435.18C798.18,436.12 798.45,436.81 799.46,437.42C800.47,438.04 802.92,438.63 804.49,438.87C806.07,439.11 807.62,438.85 808.93,438.87C810.25,438.89 811.53,439.28 812.38,439C813.23,438.71 813.74,437.46 814.02,437.15" fill="none" stroke="#b64b83" stroke-width="0.55" stroke-linejoin="round"/>
<path d="M804.26,451.9C803.69,451.7 802,450.93 800.84,450.67C799.68,450.42 798.42,450.23 797.3,450.37C796.18,450.51 794.88,451.02 794.12,451.52C793.36,452.03 792.91,452.92 792.74,453.4C792.57,453.88 792.79,454.4 793.11,454.38C793.44,454.36 793.9,453.96 794.71,453.28C795.51,452.61 796.72,451.33 797.94,450.33C799.16,449.32 800.82,448.12 802.04,447.24C803.26,446.37 804.43,445.69 805.27,445.06C806.11,444.44 806.75,444.01 807.09,443.49C807.43,442.97 807.49,442.44 807.3,441.94C807.11,441.43 806.63,440.81 805.94,440.45C805.25,440.08 804.11,439.7 803.15,439.75C802.19,439.79 800.91,440.2 800.17,440.72C799.43,441.23 798.85,442.21 798.73,442.84C798.61,443.48 798.96,444.18 799.47,444.5C799.98,444.83 800.83,444.81 801.81,444.79C802.79,444.77 804.35,444.61 805.37,444.39C806.38,444.16 807.17,443.77 807.9,443.42C808.62,443.07 809.3,442.83 809.72,442.28C810.14,441.73 810.31,440.97 810.4,440.12C810.49,439.28 810.54,438.34 810.23,437.22C809.93,436.1 809.3,434.47 808.59,433.39C807.88,432.32 806.78,431.31 805.95,430.76C805.13,430.21 804.18,430.25 803.64,430.12C803.1,429.99 802.49,429.8 802.72,429.97C802.95,430.13 803.92,430.63 805.02,431.11C806.12,431.58 807.86,432.18 809.33,432.8C810.81,433.43 812.52,434.08 813.85,434.87C815.18,435.66 816.35,436.9 817.33,437.55C818.32,438.19 819.01,438.64 819.76,438.74C820.51,438.84 821.25,438.6 821.84,438.17C822.42,437.74 823.06,436.93 823.27,436.14C823.49,435.36 823.47,434.19 823.12,433.44C822.76,432.69 821.83,432.09 821.12,431.66C820.42,431.22 819.48,430.7 818.89,430.82C818.3,430.94 817.79,431.55 817.61,432.36C817.43,433.18 817.62,434.57 817.81,435.7C818,436.83 818.45,438.1 818.75,439.14C819.05,440.19 819.35,441.19 819.61,441.96C819.87,442.72 819.85,443.49 820.3,443.73C820.75,443.96 821.48,443.73 822.31,443.37C823.15,443.01 824.33,442.4 825.31,441.57C826.28,440.74 827.56,439.46 828.18,438.39C828.8,437.32 828.89,436.18 829.05,435.14C829.2,434.1 829.2,432.68 829.1,432.15C829.01,431.61 828.61,431.53 828.48,431.93C828.36,432.34 828.31,433.42 828.35,434.58C828.39,435.74 828.64,437.38 828.72,438.89C828.79,440.4 828.88,442.14 828.81,443.62C828.74,445.1 828.4,446.56 828.29,447.74C828.18,448.93 827.87,449.86 828.15,450.73C828.44,451.6 829.38,452.44 830.01,452.95C830.65,453.46 831.17,453.76 831.95,453.77C832.73,453.78 833.92,453.48 834.69,452.99C835.46,452.51 836.38,451.53 836.56,450.84C836.74,450.14 836.4,449.21 835.78,448.83C835.15,448.44 833.91,448.37 832.81,448.52C831.72,448.67 830.39,449.27 829.2,449.74C828.01,450.2 826.72,450.86 825.68,451.32C824.65,451.77 823.64,452.12 822.99,452.47C822.34,452.83 821.82,452.99 821.77,453.44C821.71,453.89 822.14,454.59 822.66,455.2C823.18,455.81 823.9,456.57 824.88,457.11C825.85,457.65 827.31,458.27 828.5,458.41C829.69,458.56 831.1,458.28 832.02,457.97C832.94,457.66 833.71,456.9 834.03,456.53C834.35,456.17 834.32,455.79 833.92,455.77C833.53,455.75 832.65,456.08 831.66,456.44C830.67,456.8 829.24,457.43 827.98,457.94C826.73,458.46 825.38,459.1 824.15,459.52C822.92,459.94 821.57,460.01 820.58,460.45C819.59,460.89 818.82,461.33 818.2,462.15C817.58,462.97 817.09,464.39 816.85,465.38C816.61,466.37 816.52,467.21 816.76,468.08C817.01,468.95 817.7,470.1 818.31,470.58C818.93,471.07 819.88,471.04 820.43,470.99C820.97,470.94 821.6,470.89 821.58,470.26C821.56,469.64 820.95,468.31 820.3,467.25C819.64,466.19 818.51,464.99 817.63,463.91C816.74,462.83 815.71,461.79 814.98,460.77C814.25,459.75 813.73,458.48 813.25,457.78C812.78,457.09 812.57,456.59 812.12,456.62C811.67,456.65 810.97,457.38 810.54,457.97C810.11,458.57 809.7,459.25 809.54,460.19C809.38,461.13 809.31,462.47 809.57,463.62C809.82,464.77 810.45,466.33 811.06,467.08C811.66,467.84 812.7,468.11 813.2,468.14C813.7,468.16 814.06,467.84 814.05,467.25C814.03,466.65 813.62,465.43 813.13,464.55C812.64,463.67 811.75,462.9 811.09,461.97C810.43,461.04 809.86,459.76 809.16,458.96C808.46,458.15 807.7,457.63 806.91,457.14C806.12,456.65 805.45,456.15 804.42,456.01C803.38,455.88 801.86,456.03 800.7,456.32C799.55,456.6 798.29,457.13 797.49,457.75C796.68,458.37 796.2,459.3 795.89,460.03C795.58,460.76 795.49,461.79 795.62,462.14C795.76,462.49 796.26,462.56 796.7,462.13C797.13,461.71 797.96,460.01 798.21,459.58" fill="none" stroke="#a52a6a" stroke-width="0.6" stroke-linejoin="round"/>
<path d="M805.37,442.67C805.87,442.62 807.54,442.61 808.36,442.36C809.18,442.11 809.87,441.69 810.29,441.17C810.71,440.65 811.01,439.89 810.9,439.24C810.8,438.6 810.39,437.74 809.68,437.29C808.96,436.84 807.5,436.4 806.63,436.55C805.75,436.7 804.84,437.73 804.42,438.19C804,438.65 803.78,439.08 804.1,439.31C804.42,439.55 805.44,439.55 806.36,439.6C807.28,439.64 808.68,439.63 809.62,439.58C810.56,439.52 811.47,439.48 812,439.25C812.53,439.02 812.85,438.71 812.78,438.18C812.72,437.65 812.11,436.47 811.59,436.07C811.08,435.67 810.1,435.67 809.69,435.8C809.29,435.94 808.95,436.45 809.18,436.89C809.4,437.33 810.26,438 811.05,438.44C811.84,438.88 813,439.17 813.92,439.52C814.84,439.87 815.79,440.42 816.54,440.56C817.29,440.7 817.95,440.67 818.42,440.34C818.88,440.02 819.32,439.27 819.35,438.6C819.37,437.94 818.99,436.95 818.55,436.37C818.12,435.78 817.16,435.21 816.72,435.09C816.28,434.96 815.87,435.23 815.91,435.61C815.96,435.98 816.49,436.76 816.99,437.32C817.5,437.87 818.35,438.49 818.95,438.94C819.56,439.39 820.1,440.05 820.65,439.99C821.2,439.94 822.02,439.22 822.25,438.63C822.48,438.04 822.38,437.16 822.02,436.47C821.65,435.78 820.7,434.82 820.08,434.47C819.46,434.12 818.55,434.06 818.27,434.37C818,434.67 818.16,435.46 818.45,436.28C818.74,437.1 819.46,438.36 820.01,439.27C820.56,440.17 821.28,441.04 821.76,441.72C822.24,442.4 822.45,443.17 822.91,443.35C823.37,443.54 824.13,443.2 824.52,442.82C824.92,442.43 825.25,441.56 825.28,441.04C825.31,440.53 824.86,439.91 824.68,439.74C824.51,439.57 824.42,439.52 824.24,440.03C824.07,440.54 823.73,441.89 823.63,442.82C823.53,443.75 823.44,444.83 823.63,445.59C823.81,446.34 824.21,446.98 824.73,447.37C825.24,447.76 825.99,448.08 826.7,447.93C827.41,447.79 828.49,447.22 828.99,446.49C829.49,445.76 829.76,444.36 829.71,443.55C829.67,442.73 829.02,441.85 828.71,441.6C828.41,441.35 828.17,441.52 827.87,442.05C827.58,442.57 827.2,443.83 826.94,444.75C826.69,445.66 826.35,446.79 826.35,447.54C826.35,448.29 826.55,448.93 826.95,449.25C827.36,449.56 828.24,449.65 828.79,449.42C829.35,449.18 830.05,448.4 830.29,447.82C830.53,447.24 830.57,446.22 830.23,445.94C829.9,445.67 828.9,445.79 828.27,446.18C827.63,446.58 827.08,447.54 826.45,448.33C825.81,449.13 825.01,450.19 824.46,450.96C823.9,451.73 823.2,452.31 823.13,452.97C823.06,453.63 823.61,454.5 824.01,454.92C824.4,455.34 824.77,455.46 825.48,455.49C826.2,455.51 827.74,455.38 828.29,455.08C828.84,454.78 828.9,453.94 828.78,453.69C828.66,453.45 828.18,453.44 827.58,453.6C826.98,453.76 825.86,454.19 825.2,454.65C824.54,455.12 824,455.86 823.63,456.4C823.25,456.94 822.77,457.38 822.93,457.9C823.09,458.41 823.81,459.26 824.59,459.5C825.36,459.74 826.73,459.7 827.56,459.34C828.4,458.99 829.29,457.93 829.6,457.38C829.91,456.83 829.94,456.25 829.42,456.02C828.9,455.8 827.53,455.9 826.49,456.04C825.44,456.18 824.07,456.51 823.15,456.87C822.23,457.23 821.49,457.77 820.96,458.19C820.44,458.6 820.02,458.97 820,459.38C819.97,459.78 820.34,460.31 820.8,460.63C821.25,460.94 822.29,461.29 822.7,461.24C823.12,461.2 823.47,460.69 823.28,460.35C823.09,460.01 822.29,459.44 821.57,459.2C820.84,458.96 819.82,459.09 818.93,458.93C818.04,458.78 816.97,458.19 816.22,458.26C815.47,458.33 814.82,458.88 814.44,459.35C814.07,459.82 813.81,460.34 813.97,461.09C814.14,461.83 814.77,463.28 815.44,463.81C816.11,464.34 817.38,464.33 817.99,464.27C818.61,464.22 819.14,463.8 819.13,463.47C819.12,463.14 818.52,462.69 817.91,462.31C817.3,461.93 816.24,461.45 815.47,461.17C814.69,460.9 813.83,460.63 813.25,460.66C812.68,460.7 812.15,461 812.02,461.38C811.89,461.76 812.07,462.4 812.46,462.94C812.85,463.48 813.77,464.47 814.35,464.65C814.93,464.83 815.76,464.39 815.92,464.02C816.08,463.64 815.78,463.03 815.31,462.39C814.84,461.75 813.79,461.03 813.1,460.19C812.41,459.36 811.81,457.96 811.17,457.36C810.52,456.75 809.82,456.58 809.23,456.55C808.65,456.53 807.98,456.79 807.64,457.18C807.31,457.57 807.22,458.26 807.22,458.89C807.22,459.52 807.4,460.71 807.64,460.96C807.89,461.21 808.55,460.8 808.7,460.38C808.85,459.96 808.73,459.16 808.55,458.44C808.37,457.73 807.92,456.82 807.62,456.11C807.33,455.4 807.32,454.47 806.78,454.17C806.23,453.87 804.99,454 804.38,454.31C803.77,454.63 803.35,455.22 803.12,456.06C802.89,456.9 802.79,458.45 802.99,459.34C803.2,460.23 803.85,461.31 804.35,461.41C804.84,461.51 805.74,460.58 805.95,459.93C806.16,459.27 805.6,458.46 805.61,457.47C805.63,456.48 806.17,454.85 806.05,453.98C805.93,453.11 805.34,452.59 804.9,452.25C804.46,451.91 803.91,451.77 803.41,451.95C802.91,452.14 802.07,452.88 801.9,453.37C801.73,453.85 802.21,454.59 802.4,454.84C802.59,455.1 802.68,455.28 803.05,454.89C803.43,454.51 804.14,453.41 804.67,452.54C805.2,451.67 805.82,450.51 806.23,449.67C806.64,448.82 807.14,448.1 807.14,447.47C807.14,446.83 806.77,446.21 806.22,445.85C805.68,445.5 804.64,445.2 803.86,445.34C803.07,445.48 802.02,446.16 801.51,446.7C800.99,447.24 800.76,448.23 800.75,448.59C800.74,448.94 800.95,449.05 801.43,448.85C801.91,448.64 803.02,447.95 803.62,447.37C804.22,446.78 804.67,445.91 805.03,445.32C805.39,444.72 805.9,444.22 805.77,443.79C805.65,443.36 805.01,442.84 804.29,442.75C803.56,442.65 802.18,442.8 801.43,443.23C800.68,443.65 799.86,444.73 799.79,445.3C799.72,445.86 800.35,446.51 801.02,446.61C801.68,446.71 802.81,446.27 803.76,445.88C804.71,445.49 805.84,444.78 806.71,444.26C807.57,443.74 808.56,443.02 808.93,442.77" fill="none" stroke="#8d1a55" stroke-width="1.15" stroke-linejoin="round"/>
<path d="M809.08,438.95C809.54,438.74 811.21,438.22 811.87,437.72C812.52,437.23 812.97,436.56 813.03,435.97C813.09,435.39 812.74,434.58 812.24,434.22C811.74,433.87 810.73,433.76 810.03,433.84C809.33,433.91 808.29,434.08 808.07,434.65C807.84,435.21 808.25,436.52 808.69,437.23C809.13,437.94 809.94,438.35 810.69,438.92C811.45,439.5 812.5,440.42 813.2,440.7C813.9,440.98 814.41,440.91 814.89,440.6C815.36,440.29 815.79,439.7 816.03,438.83C816.27,437.96 816.47,436.48 816.31,435.39C816.15,434.3 815.59,433.13 815.07,432.3C814.55,431.46 813.55,430.66 813.19,430.39C812.82,430.11 812.56,430.22 812.89,430.67C813.21,431.12 814.21,432.16 815.12,433.08C816.03,434 817.42,435.11 818.36,436.21C819.31,437.3 820.1,438.76 820.79,439.64C821.48,440.52 821.95,441.21 822.48,441.49C823.01,441.78 823.56,441.75 823.96,441.38C824.36,441 824.88,440.08 824.89,439.25C824.91,438.42 824.59,437.04 824.07,436.41C823.54,435.77 822.38,435.44 821.76,435.45C821.14,435.46 820.54,435.96 820.35,436.46C820.17,436.95 820.48,437.58 820.63,438.42C820.78,439.26 820.83,440.78 821.27,441.49C821.7,442.2 822.49,442.41 823.25,442.69C824.01,442.96 824.95,443.17 825.83,443.13C826.71,443.08 827.66,442.93 828.53,442.44C829.39,441.94 830.59,440.84 831.03,440.17C831.47,439.49 831.24,438.69 831.18,438.38C831.12,438.07 831.06,437.79 830.67,438.31C830.27,438.84 829.43,440.32 828.78,441.52C828.13,442.72 827.45,444.35 826.78,445.53C826.11,446.72 825.11,447.82 824.76,448.62C824.4,449.43 824.52,449.97 824.66,450.38C824.79,450.78 824.96,451.06 825.56,451.06C826.16,451.05 827.34,450.88 828.25,450.34C829.15,449.8 830.49,448.66 830.98,447.8C831.47,446.94 831.31,445.69 831.17,445.16C831.03,444.64 830.58,444.4 830.15,444.65C829.72,444.9 829.09,445.8 828.61,446.65C828.13,447.49 827.71,448.71 827.27,449.7C826.83,450.69 826.03,451.6 825.97,452.6C825.9,453.59 826.51,454.81 826.87,455.68C827.22,456.55 827.44,457.28 828.09,457.8C828.74,458.32 830.11,458.83 830.77,458.8C831.42,458.78 831.88,458.05 832.03,457.66C832.18,457.27 832.35,456.81 831.68,456.47C831,456.14 829.16,455.73 827.99,455.65C826.83,455.57 825.85,456.02 824.69,456C823.53,455.97 821.83,455.42 821.05,455.48C820.27,455.54 820.09,455.91 820.02,456.36C819.96,456.82 820.08,457.48 820.64,458.19C821.19,458.9 822.33,460.12 823.36,460.61C824.38,461.11 825.8,461.17 826.81,461.15C827.83,461.13 829.07,460.73 829.45,460.52C829.83,460.31 829.68,459.98 829.08,459.89C828.47,459.81 827.07,459.95 825.82,460.02C824.57,460.1 822.89,460.24 821.58,460.36C820.26,460.48 818.96,460.44 817.93,460.73C816.9,461.03 816.01,461.57 815.39,462.14C814.77,462.71 814.27,463.54 814.2,464.18C814.13,464.81 814.51,465.58 815,465.94C815.48,466.3 816.52,466.47 817.12,466.34C817.72,466.22 818.44,465.81 818.59,465.2C818.75,464.58 818.44,463.59 818.03,462.65C817.63,461.71 816.77,460.33 816.17,459.56C815.57,458.78 814.95,458.34 814.43,458.01C813.92,457.67 813.51,457.32 813.05,457.57C812.6,457.81 812.03,458.56 811.69,459.45C811.35,460.34 811,461.72 811.03,462.92C811.06,464.12 811.49,465.74 811.87,466.64C812.25,467.55 813.07,468.29 813.29,468.37C813.51,468.45 813.54,467.78 813.18,467.1C812.81,466.42 811.84,465.4 811.07,464.3C810.31,463.2 809.24,461.75 808.6,460.5C807.96,459.25 807.73,457.68 807.24,456.79C806.75,455.9 806.21,455.4 805.66,455.17C805.11,454.94 804.37,455.04 803.93,455.42C803.5,455.8 803.05,456.68 803.04,457.44C803.03,458.2 803.46,459.34 803.87,459.98C804.28,460.62 804.99,461.3 805.51,461.29C806.03,461.28 806.62,460.66 807.01,459.93C807.4,459.21 807.8,457.8 807.84,456.93C807.88,456.07 807.56,455.39 807.24,454.75C806.93,454.12 806.67,453.5 805.97,453.14C805.28,452.79 804.1,452.6 803.08,452.64C802.06,452.67 800.75,452.91 799.87,453.35C798.98,453.78 798.21,454.66 797.77,455.24C797.33,455.83 797.06,456.74 797.21,456.85C797.36,456.96 798.11,456.58 798.67,455.92C799.23,455.25 799.72,453.96 800.59,452.86C801.46,451.75 803,450.28 803.91,449.29C804.82,448.3 805.63,447.57 806.07,446.92C806.5,446.27 806.74,445.81 806.52,445.39C806.31,444.96 805.5,444.43 804.77,444.36C804.04,444.28 802.98,444.49 802.12,444.96C801.27,445.43 800.11,446.45 799.65,447.19C799.2,447.93 799.21,449.02 799.38,449.42C799.54,449.82 800.06,449.86 800.67,449.6C801.28,449.34 802.31,448.55 803.03,447.85C803.75,447.15 804.46,446.24 804.98,445.41C805.49,444.58 805.94,443.73 806.11,442.85C806.29,441.97 806.35,441.05 806.02,440.13C805.7,439.22 804.84,437.94 804.17,437.35C803.5,436.76 802.53,436.53 802,436.58C801.47,436.63 800.97,437.24 801,437.63C801.03,438.01 801.42,438.49 802.2,438.87C802.97,439.26 804.47,439.62 805.67,439.91C806.86,440.21 808.73,440.53 809.34,440.65" fill="none" stroke="#941f5b" stroke-width="0.8" stroke-linejoin="round"/>
<path d="M805.16,442.8C805.28,442.46 805.4,441.22 805.84,440.77C806.28,440.32 807.29,440.47 807.81,440.1C808.32,439.73 808.74,438.79 808.93,438.53M804.34,458.22C804.53,458.22 805.77,458.88 805.49,458.25C805.2,457.62 802.9,455.34 802.63,454.44C802.36,453.55 803.68,453.14 803.89,452.88M811.49,436.79C811.24,437.07 809.3,438.43 810,438.45C810.7,438.46 816.15,436.6 815.67,436.87C815.19,437.14 808.56,439.55 807.14,440.09M824.25,444.44C824.68,444.55 826.94,445.52 826.85,445.11C826.76,444.7 823.86,441.45 823.71,441.97C823.57,442.49 825.59,447.18 825.97,448.22M817.25,434.59C817.42,434.77 817.73,435.37 818.29,435.66C818.85,435.94 821.84,436.03 820.63,436.31C819.42,436.6 812.63,437.2 811.04,437.37M825.83,443.47C826.28,443.66 828.79,445.14 828.55,444.63C828.32,444.13 824.38,439.93 824.41,440.43C824.45,440.94 828.04,446.47 828.77,447.67M824.3,441.94C824.38,442.19 824.99,443.7 824.78,443.44C824.58,443.18 822.85,439.82 823.06,440.37C823.26,440.93 825.52,445.7 826.02,446.77M804.32,445.56C804.33,445.44 804.29,445.39 804.39,444.88C804.49,444.38 804.72,443.17 804.92,442.52C805.12,441.87 805.49,441.24 805.61,440.99M816.36,438.74C816.64,438.76 817.59,438.58 818.05,438.84C818.52,439.11 818.72,440.32 819.16,440.31C819.59,440.31 820.39,439.07 820.64,438.82M805.65,454.01C805.15,454.03 802.65,453.47 802.68,454.15C802.71,454.82 804.92,457.28 805.82,458.05C806.71,458.82 807.67,458.65 808.04,458.77M828.66,445.8C828.47,446.06 827.71,447.9 827.55,447.34C827.38,446.77 827.5,441.91 827.65,442.4C827.81,442.9 828.34,448.98 828.47,450.3" fill="none" stroke="#7a1247" stroke-width="1.6" stroke-linecap="round" stroke-linejoin="round"/>
<clipPath id="hole1"><circle cx="846" cy="365" r="8.6"/></clipPath>
<g clip-path="url(#hole1)">
<path d="M768.6,381.25C770.17,382.08 774.14,385 778,386.25C781.86,387.5 786.96,388.38 791.75,388.75C796.54,389.12 801.75,388.5 806.75,388.5C811.75,388.5 817.38,389.54 821.75,388.75C826.12,387.96 829.88,386.04 833,383.75C836.12,381.46 838.62,377.71 840.5,375C842.38,372.29 843.53,368.92 844.25,367.5C844.97,366.08 844.72,366.67 844.81,366.51" fill="none" stroke="#363636" stroke-width="1.08" stroke-linecap="round"/>
<path d="M844.81,366.51C849.12,364.88 850.56,362.36 847.99,360.91C845.43,359.45 844,361.97 844.81,366.51Z" fill="#111" stroke="#111" stroke-width="1.08" stroke-linejoin="round"/>
</g>
<path d="M788.6,415C789.33,416.46 790.81,420.42 793,423.75C795.19,427.08 799.04,431.67 801.75,435C804.46,438.33 807.64,441.95 809.25,443.75C810.86,445.55 811.05,445.46 811.41,445.8" fill="none" stroke="#363636" stroke-width="1.08" stroke-linecap="round"/>
<path d="M811.41,445.8C811.95,450.38 814.05,452.37 816.08,450.24C818.11,448.1 816.01,446.1 811.41,445.8Z" fill="#111" stroke="#111" stroke-width="1.08" stroke-linejoin="round"/>
<path d="M802.4,435.6C802.29,436.96 802.07,440.93 801.75,443.75C801.43,446.57 800.79,450.61 800.5,452.5C800.21,454.39 800.11,454.66 800.03,455.09" fill="none" stroke="#363636" stroke-width="1.08" stroke-linecap="round"/>
<path d="M800.03,455.09C796.41,458.55 795.82,461.81 798.72,462.33C801.62,462.86 802.21,459.6 800.03,455.09Z" fill="#111" stroke="#111" stroke-width="1.08" stroke-linejoin="round"/>
<rect x="548.5" y="251" width="99.5" height="137" rx="3" fill="#fff"/>
<g clip-path="url(#boxR)">
<clipPath id="bcgrayband"><path d="M535,247C536.33,249.33 540.75,257 543,261C545.25,265 546.12,266.75 548.5,271C550.88,275.25 554.38,281.67 557.3,286.5C560.22,291.33 562.95,295.67 566,300C569.05,304.33 571.9,308.33 575.6,312.5C579.3,316.67 584.43,320.82 588.2,325C591.97,329.18 595.27,333.82 598.2,337.6C601.13,341.38 604,344.72 605.8,347.7C607.6,350.68 607.33,352.2 609,355.5C610.67,358.8 613,363.62 615.8,367.5C618.6,371.38 622.67,375.45 625.8,378.8C628.93,382.15 632.07,384.9 634.6,387.6C637.13,390.3 638.77,392.43 641,395C643.23,397.57 646.83,401.67 648,403L663,377C661.67,375.33 657.63,370 655,367C652.37,364 649.97,361.5 647.2,359C644.43,356.5 641.03,354.67 638.4,352C635.77,349.33 633.5,346.23 631.4,343C629.3,339.77 627.98,336.22 625.8,332.6C623.62,328.98 621.22,325.07 618.3,321.3C615.38,317.53 610.93,313.38 608.3,310C605.67,306.62 604.22,303.63 602.5,301C600.78,298.37 600.03,297.9 598,294.2C595.97,290.5 592.5,283.38 590.3,278.8C588.1,274.22 586.93,271.33 584.8,266.7C582.67,262.07 579.8,255.78 577.5,251C575.2,246.22 573.08,242.33 571,238C568.92,233.67 566,227.17 565,225Z"/></clipPath>
<g clip-path="url(#bcgrayband)">
<path d="M535,247C536.33,249.33 540.75,257 543,261C545.25,265 546.12,266.75 548.5,271C550.88,275.25 554.38,281.67 557.3,286.5C560.22,291.33 562.95,295.67 566,300C569.05,304.33 571.9,308.33 575.6,312.5C579.3,316.67 584.43,320.82 588.2,325C591.97,329.18 595.27,333.82 598.2,337.6C601.13,341.38 604,344.72 605.8,347.7C607.6,350.68 607.33,352.2 609,355.5C610.67,358.8 613,363.62 615.8,367.5C618.6,371.38 622.67,375.45 625.8,378.8C628.93,382.15 632.07,384.9 634.6,387.6C637.13,390.3 638.77,392.43 641,395C643.23,397.57 646.83,401.67 648,403L663,377C661.67,375.33 657.63,370 655,367C652.37,364 649.97,361.5 647.2,359C644.43,356.5 641.03,354.67 638.4,352C635.77,349.33 633.5,346.23 631.4,343C629.3,339.77 627.98,336.22 625.8,332.6C623.62,328.98 621.22,325.07 618.3,321.3C615.38,317.53 610.93,313.38 608.3,310C605.67,306.62 604.22,303.63 602.5,301C600.78,298.37 600.03,297.9 598,294.2C595.97,290.5 592.5,283.38 590.3,278.8C588.1,274.22 586.93,271.33 584.8,266.7C582.67,262.07 579.8,255.78 577.5,251C575.2,246.22 573.08,242.33 571,238C568.92,233.67 566,227.17 565,225Z" fill="url(#grayband)"/>
<path d="M548.5,236C550.67,240.17 556.81,252.1 561.5,261C566.19,269.9 571.26,280.73 576.65,289.4C582.04,298.07 588.2,305.48 593.85,313C599.5,320.52 605.84,327.46 610.55,334.5C615.26,341.54 617.29,348.78 622.1,355.25C626.91,361.72 634.08,367.51 639.4,373.3C644.72,379.09 651.57,387.22 654,390" fill="none" stroke="url(#grayhi)" stroke-width="12" stroke-linecap="round" filter="url(#soft)"/>
<path d="M535,247C536.33,249.33 540.75,257 543,261C545.25,265 546.12,266.75 548.5,271C550.88,275.25 554.38,281.67 557.3,286.5C560.22,291.33 562.95,295.67 566,300C569.05,304.33 571.9,308.33 575.6,312.5C579.3,316.67 584.43,320.82 588.2,325C591.97,329.18 595.27,333.82 598.2,337.6C601.13,341.38 604,344.72 605.8,347.7C607.6,350.68 607.33,352.2 609,355.5C610.67,358.8 613,363.62 615.8,367.5C618.6,371.38 622.67,375.45 625.8,378.8C628.93,382.15 632.07,384.9 634.6,387.6C637.13,390.3 638.77,392.43 641,395C643.23,397.57 646.83,401.67 648,403" fill="none" stroke="#8a8a8a" stroke-width="3" opacity="0.35" filter="url(#soft1)"/>
<path d="M565,225C566,227.17 568.92,233.67 571,238C573.08,242.33 575.2,246.22 577.5,251C579.8,255.78 582.67,262.07 584.8,266.7C586.93,271.33 588.1,274.22 590.3,278.8C592.5,283.38 595.97,290.5 598,294.2C600.03,297.9 600.78,298.37 602.5,301C604.22,303.63 605.67,306.62 608.3,310C610.93,313.38 615.38,317.53 618.3,321.3C621.22,325.07 623.62,328.98 625.8,332.6C627.98,336.22 629.3,339.77 631.4,343C633.5,346.23 635.77,349.33 638.4,352C641.03,354.67 644.43,356.5 647.2,359C649.97,361.5 652.37,364 655,367C657.63,370 661.67,375.33 663,377" fill="none" stroke="#8a8a8a" stroke-width="3" opacity="0.35" filter="url(#soft1)"/>
</g>
<ellipse cx="575.8" cy="317.6" rx="2.57" ry="2.37" fill="#bcbcbc"/>
<ellipse cx="575.2" cy="322.8" rx="2.68" ry="2.47" fill="#bcbcbc"/>
<ellipse cx="580.3" cy="323.3" rx="2.64" ry="2.46" fill="#bcbcbc"/>
<ellipse cx="584.9" cy="321.6" rx="2.22" ry="2.23" fill="#bcbcbc"/>
<ellipse cx="590" cy="324.5" rx="2.77" ry="2.32" fill="#bcbcbc"/>
<ellipse cx="591.7" cy="329" rx="2.74" ry="2.06" fill="#bcbcbc"/>
<ellipse cx="582" cy="335.2" rx="2.48" ry="2.12" fill="#bcbcbc"/>
<ellipse cx="588.8" cy="333.5" rx="2.53" ry="2.29" fill="#bcbcbc"/>
<ellipse cx="584.9" cy="341.5" rx="2.21" ry="2.11" fill="#bcbcbc"/>
<ellipse cx="592.2" cy="339.8" rx="2.37" ry="2.46" fill="#bcbcbc"/>
<ellipse cx="597.9" cy="340.9" rx="2.66" ry="2.08" fill="#bcbcbc"/>
<ellipse cx="576.9" cy="347.7" rx="2.68" ry="2.07" fill="#bcbcbc"/>
<ellipse cx="592.2" cy="351.1" rx="2.57" ry="2.06" fill="#bcbcbc"/>
<ellipse cx="599" cy="346.6" rx="2.2" ry="2.44" fill="#bcbcbc"/>
<ellipse cx="603.6" cy="348.3" rx="2.33" ry="2.11" fill="#bcbcbc"/>
<ellipse cx="601.9" cy="358.5" rx="2.79" ry="2.44" fill="#bcbcbc"/>
<ellipse cx="584.9" cy="360.2" rx="2.37" ry="2.48" fill="#bcbcbc"/>
<ellipse cx="602.5" cy="343.2" rx="2.52" ry="2.34" fill="#bcbcbc"/>
<ellipse cx="638.2" cy="321" rx="2.32" ry="2.47" fill="#bcbcbc"/>
<ellipse cx="631.4" cy="328.4" rx="2.61" ry="2.48" fill="#bcbcbc"/>
<ellipse cx="634.8" cy="334.1" rx="2.74" ry="2.15" fill="#bcbcbc"/>
<ellipse cx="624.6" cy="330.7" rx="2.42" ry="2.08" fill="#bcbcbc"/>
<ellipse cx="628" cy="337.5" rx="2.29" ry="2.03" fill="#bcbcbc"/>
<ellipse cx="637.6" cy="345.5" rx="2.38" ry="2.3" fill="#bcbcbc"/>
<ellipse cx="643.3" cy="346" rx="2.2" ry="2.34" fill="#bcbcbc"/>
<ellipse cx="642.8" cy="351.1" rx="2.4" ry="2.15" fill="#bcbcbc"/>
<ellipse cx="638.8" cy="350" rx="2.69" ry="2.24" fill="#bcbcbc"/>
<path d="M583.6,265C584.33,265.33 586.6,266.25 588,267C589.4,267.75 590.92,268.5 592,269.5C593.08,270.5 594.08,272.42 594.5,273" stroke="#333" stroke-width="1" fill="none" stroke-linecap="round"/>
<path d="M569.25,271.25C569.62,271.71 570.99,272.88 571.5,274C572.01,275.12 572.38,276.75 572.3,278C572.22,279.25 571.22,280.92 571,281.5" stroke="#333" stroke-width="1" fill="none" stroke-linecap="round"/>
<path d="M566,320C566.17,320.67 566.92,322.67 567,324C567.08,325.33 566.33,326.58 566.5,328C566.67,329.42 567.75,331.75 568,332.5" stroke="#333" stroke-width="1" fill="none" stroke-linecap="round"/>
<path d="M594.25,278.75C594.46,279.46 595.46,281.62 595.5,283C595.54,284.38 594.67,285.58 594.5,287C594.33,288.42 594.5,290.75 594.5,291.5" stroke="#333" stroke-width="1" fill="none" stroke-linecap="round"/>
<path d="M615.5,316.25C615.25,316.88 614.17,318.54 614,320C613.83,321.46 614.25,323.5 614.5,325C614.75,326.5 615.33,328.33 615.5,329" stroke="#333" stroke-width="1" fill="none" stroke-linecap="round"/>
<path d="M603,331.9C603.67,332.25 605.67,333.57 607,334C608.33,334.43 609.75,334.2 611,334.5C612.25,334.8 613.92,335.58 614.5,335.8" stroke="#333" stroke-width="1" fill="none" stroke-linecap="round"/>
<path d="M603,335.6C603.5,336.17 604.83,337.93 606,339C607.17,340.07 608.75,341.25 610,342C611.25,342.75 612.92,343.25 613.5,343.5" stroke="#333" stroke-width="1" fill="none" stroke-linecap="round"/>
<path d="M638,367C638.5,366.83 640,366.08 641,366C642,365.92 642.83,366.5 644,366.5C645.17,366.5 647.33,366.08 648,366" stroke="#333" stroke-width="1" fill="none" stroke-linecap="round"/>
<path d="M625.5,377.5C625.92,377.67 627.25,378.08 628,378.5C628.75,378.92 629.38,379.33 630,380C630.62,380.67 631.46,382.08 631.75,382.5" stroke="#333" stroke-width="1" fill="none" stroke-linecap="round"/>
<path d="M575.6,248.5 L581.8,262" stroke="#a5175f" stroke-width="5.5" stroke-linecap="round" fill="none"/>
<path d="M570.2,283C569.5,284.33 567.37,288.17 566,291C564.63,293.83 562.85,297.33 562,300C561.15,302.67 560.85,304.83 560.9,307C560.95,309.17 561.57,311.25 562.3,313C563.03,314.75 564.8,316.75 565.3,317.5" stroke="#a5175f" stroke-width="5.8" stroke-linecap="round" fill="none"/>
<path d="M595.5,294C596.75,294.75 600.75,296.83 603,298.5C605.25,300.17 607.33,302.17 609,304C610.67,305.83 612,307.83 613,309.5C614,311.17 614.67,313.25 615,314" stroke="#a5175f" stroke-width="5.8" stroke-linecap="round" fill="none"/>
<path d="M616.6,337.4C617.42,338.08 620.23,339.98 621.5,341.5C622.77,343.02 623.45,344.52 624.2,346.5C624.95,348.48 625.37,351.15 626,353.4C626.63,355.65 627,358.13 628,360C629,361.87 630.33,363.55 632,364.6C633.67,365.65 637,366.02 638,366.3" stroke="#a5175f" stroke-width="5.8" stroke-linecap="round" fill="none"/>
<path d="M614.4,345.5C614.7,346.25 615.7,348.42 616.2,350C616.7,351.58 616.93,353.17 617.4,355C617.87,356.83 618.5,359 619,361C619.5,363 620.13,364.9 620.4,367C620.67,369.1 620.57,372.5 620.6,373.6" stroke="#a5175f" stroke-width="5.8" stroke-linecap="round" fill="none"/>
</g>
<rect x="548.5" y="251" width="99.5" height="137" rx="3" fill="none" stroke="#4a4a4a" stroke-width="1.3"/>
<text x="553.6" y="404.9" font-size="11.4" fill="#6b6b6b" font-weight="bold" textLength="89.4" lengthAdjust="spacingAndGlyphs"  stroke="#6b6b6b" stroke-width="0.15">Disintegrating</text>
<text x="564.9" y="417.6" font-size="11.4" fill="#6b6b6b" font-weight="bold" textLength="67.5" lengthAdjust="spacingAndGlyphs"  stroke="#6b6b6b" stroke-width="0.15">microtuble</text>
<text x="816.9" y="151.7" font-size="16.7" fill="#111" font-weight="bold" textLength="66.3" lengthAdjust="spacingAndGlyphs"  stroke="#111" stroke-width="0.25">NEURO</text>
<text x="776" y="172.1" font-size="16.7" fill="#111" font-weight="bold" textLength="148" lengthAdjust="spacingAndGlyphs"  stroke="#111" stroke-width="0.25">DEGENERATION</text>
<text x="660.5" y="70" font-size="11.5" fill="#f0a666" font-weight="normal" textLength="56.8" lengthAdjust="spacingAndGlyphs"  stroke="#f0a666" stroke-width="0.22">Activated</text>
<text x="657.75" y="82.7" font-size="11.5" fill="#f0a666" font-weight="normal" textLength="62.3" lengthAdjust="spacingAndGlyphs"  stroke="#f0a666" stroke-width="0.22">microglias</text>
<text x="697.7" y="138" font-size="11.5" fill="#333" font-weight="normal" textLength="87.3" lengthAdjust="spacingAndGlyphs"  stroke="#333" stroke-width="0.22">Neurofibrillary</text>
<text x="719.3" y="150.7" font-size="11.5" fill="#333" font-weight="normal" textLength="44.4" lengthAdjust="spacingAndGlyphs"  stroke="#333" stroke-width="0.22">tangles</text>
<text x="700.5" y="273.3" font-size="11.5" fill="#333" font-weight="normal" textLength="88.8" lengthAdjust="spacingAndGlyphs"  stroke="#333" stroke-width="0.22">Demyelination</text>
<text x="835.75" y="311.5" font-size="11.5" fill="#333" font-weight="normal" textLength="20.3" lengthAdjust="spacingAndGlyphs"  stroke="#333" stroke-width="0.22">Tau</text>
<text x="808" y="324.8" font-size="11.5" fill="#333" font-weight="normal" textLength="75" lengthAdjust="spacingAndGlyphs"  stroke="#333" stroke-width="0.22">aggregation</text>
<text x="810" y="338" font-size="11.5" fill="#333" font-weight="normal" textLength="71.5" lengthAdjust="spacingAndGlyphs"  stroke="#333" stroke-width="0.22">+ Aß plaque</text>
<text x="682" y="393.3" font-size="11.5" fill="#4a89bd" font-weight="normal" textLength="50.3" lengthAdjust="spacingAndGlyphs"  stroke="#4a89bd" stroke-width="0.22">Reactive</text>
<text x="679" y="406.5" font-size="11.5" fill="#4a89bd" font-weight="normal" textLength="55.5" lengthAdjust="spacingAndGlyphs"  stroke="#4a89bd" stroke-width="0.22">astrocyte</text>
<text x="850.5" y="430.5" font-size="11.5" fill="#333" font-weight="normal" textLength="44" lengthAdjust="spacingAndGlyphs"  stroke="#333" stroke-width="0.22">Neurite</text>
<text x="842.5" y="443.3" font-size="11.5" fill="#333" font-weight="normal" textLength="60" lengthAdjust="spacingAndGlyphs"  stroke="#333" stroke-width="0.22">dystrophy</text>
</svg>
</div></body></html>
